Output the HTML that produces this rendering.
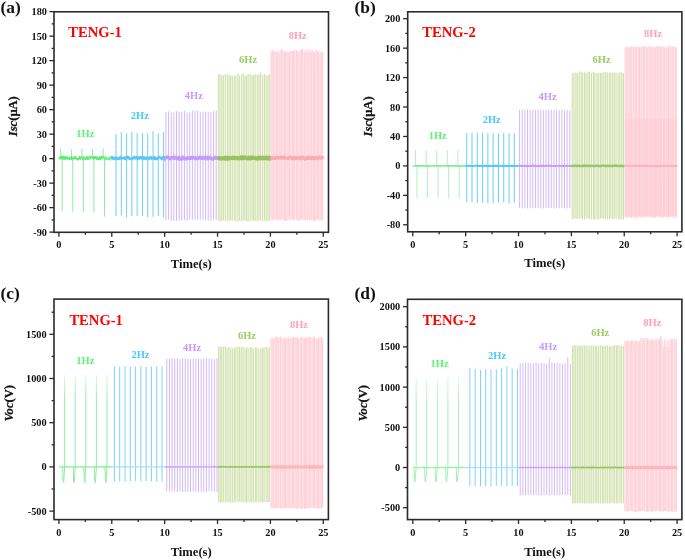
<!DOCTYPE html>
<html><head><meta charset="utf-8"><style>
html,body{margin:0;padding:0;background:#fff;}
body{width:685px;height:560px;overflow:hidden;}
svg{display:block;will-change:transform;filter:blur(0.3px);}

</style></head><body>
<svg width="685" height="560" viewBox="0 0 685 560" font-family='"Liberation Serif", serif'>
<rect width="685" height="560" fill="#ffffff"/>
<defs><linearGradient id="gc1" gradientUnits="userSpaceOnUse" x1="0" y1="374" x2="0" y2="400"><stop offset="0" stop-color="#e2fae6"/><stop offset="1" stop-color="#8eeea0"/></linearGradient><linearGradient id="gd1" gradientUnits="userSpaceOnUse" x1="0" y1="376" x2="0" y2="402"><stop offset="0" stop-color="#e6fbea"/><stop offset="1" stop-color="#a6f0b2"/></linearGradient></defs>
<rect x="270.84" y="50.83" width="52.46" height="169.87" fill="#fff4f5" fill-opacity="1"/>
<line x1="271.09" y1="51.02" x2="271.09" y2="219.73" stroke="#ffc3cc" stroke-width="0.75" stroke-opacity="1.0"/>
<line x1="272.25" y1="49.10" x2="272.25" y2="219.96" stroke="#ffc3cc" stroke-width="0.75" stroke-opacity="1.0"/>
<line x1="273.64" y1="50.80" x2="273.64" y2="219.67" stroke="#ffc3cc" stroke-width="0.75" stroke-opacity="1.0"/>
<line x1="275.10" y1="52.12" x2="275.10" y2="219.85" stroke="#ffc3cc" stroke-width="0.75" stroke-opacity="1.0"/>
<line x1="276.59" y1="50.30" x2="276.59" y2="219.16" stroke="#ffc3cc" stroke-width="0.75" stroke-opacity="1.0"/>
<line x1="277.74" y1="52.49" x2="277.74" y2="220.36" stroke="#ffc3cc" stroke-width="0.75" stroke-opacity="1.0"/>
<line x1="279.09" y1="52.50" x2="279.09" y2="219.12" stroke="#ffc3cc" stroke-width="0.75" stroke-opacity="1.0"/>
<line x1="280.25" y1="50.04" x2="280.25" y2="221.00" stroke="#ffc3cc" stroke-width="0.75" stroke-opacity="1.0"/>
<line x1="281.72" y1="48.86" x2="281.72" y2="218.74" stroke="#ffc3cc" stroke-width="0.75" stroke-opacity="1.0"/>
<line x1="282.96" y1="50.20" x2="282.96" y2="219.60" stroke="#ffc3cc" stroke-width="0.75" stroke-opacity="1.0"/>
<line x1="284.53" y1="52.23" x2="284.53" y2="221.07" stroke="#ffc3cc" stroke-width="0.75" stroke-opacity="1.0"/>
<line x1="285.64" y1="50.71" x2="285.64" y2="220.96" stroke="#ffc3cc" stroke-width="0.75" stroke-opacity="1.0"/>
<line x1="287.08" y1="52.09" x2="287.08" y2="220.51" stroke="#ffc3cc" stroke-width="0.75" stroke-opacity="1.0"/>
<line x1="288.15" y1="52.75" x2="288.15" y2="219.97" stroke="#ffc3cc" stroke-width="0.75" stroke-opacity="1.0"/>
<line x1="289.52" y1="51.07" x2="289.52" y2="219.04" stroke="#ffc3cc" stroke-width="0.75" stroke-opacity="1.0"/>
<line x1="290.96" y1="50.75" x2="290.96" y2="219.54" stroke="#ffc3cc" stroke-width="0.75" stroke-opacity="1.0"/>
<line x1="292.35" y1="50.83" x2="292.35" y2="219.48" stroke="#ffc3cc" stroke-width="0.75" stroke-opacity="1.0"/>
<line x1="293.62" y1="51.00" x2="293.62" y2="220.42" stroke="#ffc3cc" stroke-width="0.75" stroke-opacity="1.0"/>
<line x1="294.72" y1="48.80" x2="294.72" y2="218.67" stroke="#ffc3cc" stroke-width="0.75" stroke-opacity="1.0"/>
<line x1="296.45" y1="49.44" x2="296.45" y2="219.37" stroke="#ffc3cc" stroke-width="0.75" stroke-opacity="1.0"/>
<line x1="297.76" y1="51.58" x2="297.76" y2="220.54" stroke="#ffc3cc" stroke-width="0.75" stroke-opacity="1.0"/>
<line x1="298.94" y1="51.69" x2="298.94" y2="220.93" stroke="#ffc3cc" stroke-width="0.75" stroke-opacity="1.0"/>
<line x1="300.34" y1="49.74" x2="300.34" y2="220.12" stroke="#ffc3cc" stroke-width="0.75" stroke-opacity="1.0"/>
<line x1="301.58" y1="49.41" x2="301.58" y2="220.16" stroke="#ffc3cc" stroke-width="0.75" stroke-opacity="1.0"/>
<line x1="302.72" y1="48.96" x2="302.72" y2="219.03" stroke="#ffc3cc" stroke-width="0.75" stroke-opacity="1.0"/>
<line x1="304.32" y1="52.87" x2="304.32" y2="220.59" stroke="#ffc3cc" stroke-width="0.75" stroke-opacity="1.0"/>
<line x1="305.33" y1="49.15" x2="305.33" y2="219.95" stroke="#ffc3cc" stroke-width="0.75" stroke-opacity="1.0"/>
<line x1="307.07" y1="48.87" x2="307.07" y2="220.13" stroke="#ffc3cc" stroke-width="0.75" stroke-opacity="1.0"/>
<line x1="308.04" y1="52.57" x2="308.04" y2="219.56" stroke="#ffc3cc" stroke-width="0.75" stroke-opacity="1.0"/>
<line x1="309.68" y1="49.69" x2="309.68" y2="220.44" stroke="#ffc3cc" stroke-width="0.75" stroke-opacity="1.0"/>
<line x1="311.05" y1="52.52" x2="311.05" y2="220.29" stroke="#ffc3cc" stroke-width="0.75" stroke-opacity="1.0"/>
<line x1="311.96" y1="48.94" x2="311.96" y2="219.25" stroke="#ffc3cc" stroke-width="0.75" stroke-opacity="1.0"/>
<line x1="313.57" y1="52.39" x2="313.57" y2="220.50" stroke="#ffc3cc" stroke-width="0.75" stroke-opacity="1.0"/>
<line x1="314.58" y1="52.46" x2="314.58" y2="220.96" stroke="#ffc3cc" stroke-width="0.75" stroke-opacity="1.0"/>
<line x1="316.06" y1="49.62" x2="316.06" y2="220.67" stroke="#ffc3cc" stroke-width="0.75" stroke-opacity="1.0"/>
<line x1="317.31" y1="50.59" x2="317.31" y2="220.01" stroke="#ffc3cc" stroke-width="0.75" stroke-opacity="1.0"/>
<line x1="318.60" y1="52.09" x2="318.60" y2="219.31" stroke="#ffc3cc" stroke-width="0.75" stroke-opacity="1.0"/>
<line x1="320.08" y1="52.34" x2="320.08" y2="219.53" stroke="#ffc3cc" stroke-width="0.75" stroke-opacity="1.0"/>
<line x1="321.57" y1="52.40" x2="321.57" y2="220.07" stroke="#ffc3cc" stroke-width="0.75" stroke-opacity="1.0"/>
<line x1="322.70" y1="52.00" x2="322.70" y2="220.44" stroke="#ffc3cc" stroke-width="0.75" stroke-opacity="1.0"/>
<rect x="217.96" y="74.51" width="52.46" height="147.00" fill="#f6f9ee" fill-opacity="1"/>
<line x1="218.29" y1="74.60" x2="218.29" y2="220.44" stroke="#c6db9c" stroke-width="0.8" stroke-opacity="1.0"/>
<line x1="219.94" y1="73.97" x2="219.94" y2="221.28" stroke="#c6db9c" stroke-width="0.8" stroke-opacity="1.0"/>
<line x1="221.74" y1="76.11" x2="221.74" y2="220.90" stroke="#c6db9c" stroke-width="0.8" stroke-opacity="1.0"/>
<line x1="223.39" y1="75.25" x2="223.39" y2="220.19" stroke="#c6db9c" stroke-width="0.8" stroke-opacity="1.0"/>
<line x1="225.29" y1="73.89" x2="225.29" y2="220.53" stroke="#c6db9c" stroke-width="0.8" stroke-opacity="1.0"/>
<line x1="227.41" y1="74.32" x2="227.41" y2="220.43" stroke="#c6db9c" stroke-width="0.8" stroke-opacity="1.0"/>
<line x1="228.98" y1="75.67" x2="228.98" y2="220.79" stroke="#c6db9c" stroke-width="0.8" stroke-opacity="1.0"/>
<line x1="230.54" y1="75.62" x2="230.54" y2="220.03" stroke="#c6db9c" stroke-width="0.8" stroke-opacity="1.0"/>
<line x1="232.28" y1="75.95" x2="232.28" y2="220.18" stroke="#c6db9c" stroke-width="0.8" stroke-opacity="1.0"/>
<line x1="234.20" y1="75.90" x2="234.20" y2="220.39" stroke="#c6db9c" stroke-width="0.8" stroke-opacity="1.0"/>
<line x1="235.95" y1="75.05" x2="235.95" y2="220.85" stroke="#c6db9c" stroke-width="0.8" stroke-opacity="1.0"/>
<line x1="238.03" y1="73.39" x2="238.03" y2="221.48" stroke="#c6db9c" stroke-width="0.8" stroke-opacity="1.0"/>
<line x1="239.52" y1="75.95" x2="239.52" y2="220.02" stroke="#c6db9c" stroke-width="0.8" stroke-opacity="1.0"/>
<line x1="241.54" y1="74.48" x2="241.54" y2="221.36" stroke="#c6db9c" stroke-width="0.8" stroke-opacity="1.0"/>
<line x1="243.34" y1="72.92" x2="243.34" y2="219.97" stroke="#c6db9c" stroke-width="0.8" stroke-opacity="1.0"/>
<line x1="244.82" y1="75.78" x2="244.82" y2="220.82" stroke="#c6db9c" stroke-width="0.8" stroke-opacity="1.0"/>
<line x1="246.51" y1="75.71" x2="246.51" y2="221.00" stroke="#c6db9c" stroke-width="0.8" stroke-opacity="1.0"/>
<line x1="248.15" y1="74.12" x2="248.15" y2="221.25" stroke="#c6db9c" stroke-width="0.8" stroke-opacity="1.0"/>
<line x1="250.18" y1="73.87" x2="250.18" y2="221.43" stroke="#c6db9c" stroke-width="0.8" stroke-opacity="1.0"/>
<line x1="252.11" y1="75.59" x2="252.11" y2="220.18" stroke="#c6db9c" stroke-width="0.8" stroke-opacity="1.0"/>
<line x1="253.68" y1="74.84" x2="253.68" y2="220.83" stroke="#c6db9c" stroke-width="0.8" stroke-opacity="1.0"/>
<line x1="255.18" y1="74.20" x2="255.18" y2="220.73" stroke="#c6db9c" stroke-width="0.8" stroke-opacity="1.0"/>
<line x1="257.25" y1="74.89" x2="257.25" y2="221.46" stroke="#c6db9c" stroke-width="0.8" stroke-opacity="1.0"/>
<line x1="258.95" y1="73.77" x2="258.95" y2="219.93" stroke="#c6db9c" stroke-width="0.8" stroke-opacity="1.0"/>
<line x1="260.53" y1="72.96" x2="260.53" y2="220.43" stroke="#c6db9c" stroke-width="0.8" stroke-opacity="1.0"/>
<line x1="262.59" y1="74.98" x2="262.59" y2="220.92" stroke="#c6db9c" stroke-width="0.8" stroke-opacity="1.0"/>
<line x1="264.51" y1="73.89" x2="264.51" y2="220.41" stroke="#c6db9c" stroke-width="0.8" stroke-opacity="1.0"/>
<line x1="266.18" y1="75.77" x2="266.18" y2="221.13" stroke="#c6db9c" stroke-width="0.8" stroke-opacity="1.0"/>
<line x1="268.01" y1="74.96" x2="268.01" y2="220.68" stroke="#c6db9c" stroke-width="0.8" stroke-opacity="1.0"/>
<line x1="269.74" y1="73.50" x2="269.74" y2="220.70" stroke="#c6db9c" stroke-width="0.8" stroke-opacity="1.0"/>
<line x1="165.93" y1="112.26" x2="165.93" y2="219.99" stroke="#d3b9f8" stroke-width="1.0" stroke-opacity="1.0"/>
<line x1="168.57" y1="111.22" x2="168.57" y2="219.72" stroke="#d3b9f8" stroke-width="1.0" stroke-opacity="1.0"/>
<line x1="171.22" y1="112.44" x2="171.22" y2="220.73" stroke="#d3b9f8" stroke-width="1.0" stroke-opacity="1.0"/>
<line x1="173.86" y1="112.54" x2="173.86" y2="220.74" stroke="#d3b9f8" stroke-width="1.0" stroke-opacity="1.0"/>
<line x1="176.51" y1="111.10" x2="176.51" y2="220.89" stroke="#d3b9f8" stroke-width="1.0" stroke-opacity="1.0"/>
<line x1="179.15" y1="111.59" x2="179.15" y2="220.76" stroke="#d3b9f8" stroke-width="1.0" stroke-opacity="1.0"/>
<line x1="181.79" y1="112.17" x2="181.79" y2="220.40" stroke="#d3b9f8" stroke-width="1.0" stroke-opacity="1.0"/>
<line x1="184.44" y1="110.84" x2="184.44" y2="220.11" stroke="#d3b9f8" stroke-width="1.0" stroke-opacity="1.0"/>
<line x1="187.08" y1="112.86" x2="187.08" y2="220.65" stroke="#d3b9f8" stroke-width="1.0" stroke-opacity="1.0"/>
<line x1="189.73" y1="112.54" x2="189.73" y2="219.68" stroke="#d3b9f8" stroke-width="1.0" stroke-opacity="1.0"/>
<line x1="192.37" y1="110.91" x2="192.37" y2="219.79" stroke="#d3b9f8" stroke-width="1.0" stroke-opacity="1.0"/>
<line x1="195.01" y1="110.87" x2="195.01" y2="219.89" stroke="#d3b9f8" stroke-width="1.0" stroke-opacity="1.0"/>
<line x1="197.66" y1="110.57" x2="197.66" y2="219.81" stroke="#d3b9f8" stroke-width="1.0" stroke-opacity="1.0"/>
<line x1="200.30" y1="112.27" x2="200.30" y2="219.72" stroke="#d3b9f8" stroke-width="1.0" stroke-opacity="1.0"/>
<line x1="202.95" y1="111.70" x2="202.95" y2="219.87" stroke="#d3b9f8" stroke-width="1.0" stroke-opacity="1.0"/>
<line x1="205.59" y1="111.51" x2="205.59" y2="220.40" stroke="#d3b9f8" stroke-width="1.0" stroke-opacity="1.0"/>
<line x1="208.23" y1="112.00" x2="208.23" y2="220.40" stroke="#d3b9f8" stroke-width="1.0" stroke-opacity="1.0"/>
<line x1="210.88" y1="112.13" x2="210.88" y2="220.91" stroke="#d3b9f8" stroke-width="1.0" stroke-opacity="1.0"/>
<line x1="213.52" y1="110.89" x2="213.52" y2="219.80" stroke="#d3b9f8" stroke-width="1.0" stroke-opacity="1.0"/>
<line x1="216.17" y1="110.48" x2="216.17" y2="219.98" stroke="#d3b9f8" stroke-width="1.0" stroke-opacity="1.0"/>
<line x1="116.01" y1="133.78" x2="116.01" y2="216.12" stroke="#6fcff5" stroke-width="1.0" stroke-opacity="1.0"/>
<line x1="121.30" y1="132.00" x2="121.30" y2="215.53" stroke="#6fcff5" stroke-width="1.0" stroke-opacity="1.0"/>
<line x1="126.59" y1="133.24" x2="126.59" y2="217.21" stroke="#6fcff5" stroke-width="1.0" stroke-opacity="1.0"/>
<line x1="131.87" y1="131.73" x2="131.87" y2="216.23" stroke="#6fcff5" stroke-width="1.0" stroke-opacity="1.0"/>
<line x1="137.16" y1="133.14" x2="137.16" y2="216.16" stroke="#6fcff5" stroke-width="1.0" stroke-opacity="1.0"/>
<line x1="142.45" y1="132.83" x2="142.45" y2="215.93" stroke="#6fcff5" stroke-width="1.0" stroke-opacity="1.0"/>
<line x1="147.74" y1="133.74" x2="147.74" y2="217.29" stroke="#6fcff5" stroke-width="1.0" stroke-opacity="1.0"/>
<line x1="153.03" y1="131.19" x2="153.03" y2="216.96" stroke="#6fcff5" stroke-width="1.0" stroke-opacity="1.0"/>
<line x1="158.31" y1="133.28" x2="158.31" y2="215.87" stroke="#6fcff5" stroke-width="1.0" stroke-opacity="1.0"/>
<line x1="163.60" y1="132.07" x2="163.60" y2="217.47" stroke="#6fcff5" stroke-width="1.0" stroke-opacity="1.0"/>
<line x1="60.80" y1="148.45" x2="60.80" y2="158.63" stroke="#8eeea0" stroke-width="1.0" stroke-opacity="1.0"/>
<line x1="62.20" y1="158.63" x2="62.20" y2="211.71" stroke="#8eeea0" stroke-width="1.0" stroke-opacity="1.0"/>
<line x1="71.38" y1="149.23" x2="71.38" y2="158.63" stroke="#8eeea0" stroke-width="1.0" stroke-opacity="1.0"/>
<line x1="72.78" y1="158.63" x2="72.78" y2="211.71" stroke="#8eeea0" stroke-width="1.0" stroke-opacity="1.0"/>
<line x1="81.96" y1="148.64" x2="81.96" y2="158.63" stroke="#8eeea0" stroke-width="1.0" stroke-opacity="1.0"/>
<line x1="83.36" y1="158.63" x2="83.36" y2="211.71" stroke="#8eeea0" stroke-width="1.0" stroke-opacity="1.0"/>
<line x1="92.53" y1="149.11" x2="92.53" y2="158.63" stroke="#8eeea0" stroke-width="1.0" stroke-opacity="1.0"/>
<line x1="93.93" y1="158.63" x2="93.93" y2="212.53" stroke="#8eeea0" stroke-width="1.0" stroke-opacity="1.0"/>
<line x1="103.11" y1="148.43" x2="103.11" y2="158.63" stroke="#8eeea0" stroke-width="1.0" stroke-opacity="1.0"/>
<line x1="104.51" y1="158.63" x2="104.51" y2="216.61" stroke="#8eeea0" stroke-width="1.0" stroke-opacity="1.0"/>
<polyline points="58.90,156.64 59.11,158.54 59.32,158.69 59.53,158.08 59.75,156.86 59.96,159.01 60.17,159.51 60.38,158.38 60.59,158.12 60.80,156.95 61.02,155.75 61.23,157.04 61.44,158.19 61.65,156.27 61.86,158.90 62.07,157.09 62.28,156.73 62.50,155.87 62.71,159.67 62.92,159.35 63.13,159.85 63.34,158.88 63.55,156.26 63.76,156.96 63.98,157.81 64.19,156.39 64.40,159.58 64.61,157.79 64.82,156.55 65.03,159.05 65.25,156.67 65.46,159.54 65.67,158.14 65.88,158.27 66.09,157.42 66.30,157.85 66.51,156.69 66.73,155.84 66.94,159.11 67.15,157.14 67.36,159.02 67.57,157.02 67.78,159.78 68.00,160.02 68.21,159.49 68.42,159.41 68.63,158.64 68.84,159.11 69.05,156.68 69.26,157.66 69.48,159.32 69.69,157.04 69.90,159.59 70.11,159.95 70.32,158.04 70.53,157.47 70.75,157.72 70.96,157.49 71.17,159.98 71.38,157.95 71.59,156.05 71.80,155.94 72.01,158.52 72.23,160.18 72.44,158.44 72.65,158.08 72.86,158.25 73.07,159.11 73.28,157.09 73.49,158.29 73.71,158.32 73.92,158.60 74.13,156.82 74.34,156.41 74.55,157.08 74.76,159.62 74.98,157.71 75.19,158.37 75.40,157.29 75.61,156.23 75.82,155.86 76.03,158.90 76.24,159.36 76.46,157.77 76.67,158.74 76.88,158.90 77.09,159.86 77.30,160.30 77.51,158.10 77.73,160.08 77.94,160.36 78.15,158.87 78.36,159.79 78.57,158.34 78.78,157.58 78.99,156.89 79.21,159.37 79.42,156.89 79.63,156.01 79.84,158.90 80.05,159.34 80.26,158.22 80.48,159.47 80.69,156.46 80.90,156.71 81.11,156.89 81.32,157.47 81.53,156.55 81.74,155.94 81.96,156.94 82.17,159.47 82.38,160.33 82.59,159.51 82.80,158.24 83.01,157.04 83.22,159.74 83.44,158.48 83.65,159.07 83.86,156.28 84.07,156.48 84.28,159.13 84.49,159.48 84.71,159.91 84.92,158.83 85.13,157.88 85.34,158.34 85.55,159.54 85.76,157.53 85.97,158.07 86.19,157.11 86.40,158.96 86.61,156.18 86.82,158.43 87.03,160.00 87.24,156.44 87.46,158.10 87.67,158.64 87.88,159.62 88.09,158.70 88.30,157.15 88.51,157.46 88.72,159.82 88.94,160.08 89.15,156.91 89.36,156.12 89.57,155.96 89.78,155.64 89.99,157.33 90.20,156.40 90.42,159.23 90.63,158.92 90.84,156.65 91.05,157.92 91.26,157.28 91.47,157.85 91.69,156.83 91.90,156.40 92.11,156.39 92.32,157.19 92.53,158.74 92.74,158.38 92.95,156.21 93.17,158.54 93.38,159.69 93.59,159.50 93.80,159.53 94.01,156.28 94.22,157.53 94.44,156.11 94.65,158.74 94.86,156.82 95.07,158.67 95.28,157.13 95.49,158.67 95.70,157.38 95.92,155.99 96.13,157.16 96.34,157.06 96.55,159.50 96.76,157.47 96.97,157.93 97.19,158.22 97.40,159.93 97.61,156.74 97.82,158.19 98.03,158.10 98.24,159.02 98.45,160.17 98.67,157.67 98.88,158.79 99.09,158.29 99.30,158.33 99.51,156.28 99.72,158.99 99.93,160.21 100.15,157.86 100.36,157.24 100.57,159.92 100.78,156.78 100.99,156.02 101.20,155.85 101.42,158.90 101.63,159.29 101.84,158.07 102.05,158.54 102.26,156.13 102.47,158.25 102.68,157.84 102.90,158.06 103.11,157.58 103.32,157.53 103.53,156.79 103.74,155.90 103.95,157.33 104.17,156.84 104.38,158.64 104.59,159.47 104.80,159.25 105.01,158.09 105.22,156.95 105.43,157.34 105.65,157.84 105.86,158.54 106.07,160.06 106.28,156.71 106.49,157.68 106.70,157.93 106.92,158.91 107.13,159.83 107.34,159.55 107.55,158.86 107.76,159.27 107.97,158.98 108.18,159.71 108.40,159.19 108.61,159.02 108.82,157.17 109.03,159.59 109.24,157.87 109.45,158.47 109.66,159.47 109.88,160.25 110.09,160.51 110.30,156.47 110.51,156.94 110.72,157.03 110.93,157.38 111.15,156.42 111.36,157.93 111.57,156.26 111.78,156.85 111.99,159.64 112.20,159.36" fill="none" stroke="#58ea70" stroke-width="0.9" stroke-opacity="1.0" stroke-linejoin="round"/>
<polyline points="111.78,159.31 111.99,157.41 112.20,156.51 112.41,158.97 112.63,157.43 112.84,156.79 113.05,158.08 113.26,157.61 113.47,159.00 113.68,157.57 113.90,159.18 114.11,157.87 114.32,158.26 114.53,159.31 114.74,158.93 114.95,159.49 115.16,159.05 115.38,157.07 115.59,158.81 115.80,158.51 116.01,157.65 116.22,157.05 116.43,158.71 116.64,158.47 116.86,159.39 117.07,159.20 117.28,159.67 117.49,158.71 117.70,158.79 117.91,158.57 118.13,157.52 118.34,159.15 118.55,157.84 118.76,158.76 118.97,159.52 119.18,158.90 119.39,157.29 119.61,158.72 119.82,158.71 120.03,157.35 120.24,156.56 120.45,157.68 120.66,156.62 120.88,158.80 121.09,158.28 121.30,158.15 121.51,157.81 121.72,158.42 121.93,159.31 122.14,157.88 122.36,157.63 122.57,158.14 122.78,157.50 122.99,158.14 123.20,158.18 123.41,157.89 123.63,158.47 123.84,158.24 124.05,156.94 124.26,159.09 124.47,157.94 124.68,157.81 124.89,157.69 125.11,159.13 125.32,159.63 125.53,158.54 125.74,157.91 125.95,156.86 126.16,158.79 126.37,157.34 126.59,157.95 126.80,157.58 127.01,157.42 127.22,157.45 127.43,156.99 127.64,156.42 127.86,157.65 128.07,158.74 128.28,158.66 128.49,157.38 128.70,158.38 128.91,156.88 129.12,157.44 129.34,158.77 129.55,159.43 129.76,158.34 129.97,159.09 130.18,158.34 130.39,158.19 130.61,158.32 130.82,159.49 131.03,159.15 131.24,158.29 131.45,158.74 131.66,158.65 131.87,157.81 132.09,158.76 132.30,159.14 132.51,158.67 132.72,159.46 132.93,157.11 133.14,157.75 133.36,158.32 133.57,157.67 133.78,157.00 133.99,158.26 134.20,157.92 134.41,157.35 134.62,156.54 134.84,158.89 135.05,157.87 135.26,156.91 135.47,156.90 135.68,157.01 135.89,158.75 136.10,157.35 136.32,157.20 136.53,156.65 136.74,157.53 136.95,157.06 137.16,157.30 137.37,158.47 137.59,159.35 137.80,159.36 138.01,157.14 138.22,157.42 138.43,158.82 138.64,156.96 138.85,156.88 139.07,157.66 139.28,157.59 139.49,158.60 139.70,158.81 139.91,158.16 140.12,157.37 140.34,157.08 140.55,157.09 140.76,156.53 140.97,158.04 141.18,157.08 141.39,158.83 141.60,158.68 141.82,156.98 142.03,157.71 142.24,158.23 142.45,156.81 142.66,157.63 142.87,156.59 143.08,158.34 143.30,156.74 143.51,158.01 143.72,159.38 143.93,159.41 144.14,157.70 144.35,158.03 144.57,157.02 144.78,157.29 144.99,158.83 145.20,159.16 145.41,156.99 145.62,157.38 145.83,158.23 146.05,157.18 146.26,158.62 146.47,159.31 146.68,158.56 146.89,157.80 147.10,158.94 147.32,158.34 147.53,157.25 147.74,157.17 147.95,156.82 148.16,158.62 148.37,158.23 148.58,158.64 148.80,159.10 149.01,159.68 149.22,157.66 149.43,157.65 149.64,158.97 149.85,159.04 150.07,158.02 150.28,158.46 150.49,157.31 150.70,156.87 150.91,156.42 151.12,157.21 151.33,157.04 151.55,157.78 151.76,159.27 151.97,157.43 152.18,158.01 152.39,159.05 152.60,158.61 152.81,158.28 153.03,158.85 153.24,156.94 153.45,158.96 153.66,158.83 153.87,159.13 154.08,159.27 154.30,157.28 154.51,156.59 154.72,156.70 154.93,157.64 155.14,159.14 155.35,159.51 155.56,158.23 155.78,158.43 155.99,158.82 156.20,157.80 156.41,159.28 156.62,159.64 156.83,159.15 157.05,159.49 157.26,159.31 157.47,158.84 157.68,157.77 157.89,157.34 158.10,157.09 158.31,156.51 158.53,158.77 158.74,157.69 158.95,156.59 159.16,157.08 159.37,156.64 159.58,157.46 159.80,157.39 160.01,156.93 160.22,157.63 160.43,157.67 160.64,157.51 160.85,158.75 161.06,157.71 161.28,158.05 161.49,159.09 161.70,159.63 161.91,158.16 162.12,156.78 162.33,158.92 162.54,158.34 162.76,157.33 162.97,156.78 163.18,156.92 163.39,157.17 163.60,156.76 163.81,156.39 164.03,158.92 164.24,159.19 164.45,157.30 164.66,157.76" fill="none" stroke="#5cc6f2" stroke-width="1.6" stroke-opacity="1.0" stroke-linejoin="round"/>
<polyline points="164.66,159.22 164.87,159.64 165.08,159.61 165.29,157.34 165.51,158.08 165.72,157.83 165.93,158.05 166.14,157.00 166.35,156.86 166.56,157.52 166.78,157.10 166.99,157.62 167.20,156.58 167.41,156.43 167.62,158.14 167.83,157.84 168.04,158.01 168.26,158.68 168.47,157.83 168.68,156.73 168.89,158.43 169.10,158.40 169.31,158.58 169.52,158.53 169.74,159.50 169.95,158.09 170.16,158.77 170.37,157.89 170.58,158.19 170.79,158.53 171.01,157.66 171.22,156.76 171.43,157.58 171.64,158.50 171.85,158.43 172.06,158.00 172.27,158.42 172.49,157.26 172.70,156.90 172.91,157.20 173.12,158.66 173.33,157.37 173.54,156.75 173.76,156.52 173.97,156.29 174.18,156.88 174.39,157.89 174.60,158.89 174.81,157.81 175.02,157.60 175.24,157.31 175.45,157.27 175.66,158.58 175.87,158.33 176.08,157.44 176.29,156.75 176.51,158.44 176.72,158.73 176.93,159.16 177.14,157.64 177.35,158.04 177.56,159.21 177.77,158.64 177.99,159.46 178.20,157.53 178.41,159.21 178.62,157.14 178.83,157.53 179.04,156.54 179.25,158.45 179.47,158.68 179.68,159.55 179.89,159.34 180.10,159.68 180.31,158.63 180.52,159.58 180.74,159.19 180.95,157.95 181.16,159.33 181.37,158.08 181.58,157.19 181.79,156.59 182.00,157.50 182.22,157.02 182.43,158.94 182.64,159.56 182.85,157.70 183.06,156.82 183.27,157.75 183.49,157.02 183.70,157.85 183.91,158.85 184.12,157.59 184.33,157.68 184.54,159.05 184.75,158.18 184.97,157.63 185.18,159.01 185.39,159.20 185.60,159.49 185.81,158.99 186.02,158.07 186.24,158.58 186.45,159.12 186.66,158.75 186.87,157.51 187.08,157.30 187.29,157.56 187.50,158.65 187.72,158.38 187.93,158.27 188.14,159.02 188.35,157.23 188.56,158.16 188.77,157.60 188.98,158.07 189.20,158.98 189.41,157.61 189.62,159.17 189.83,157.19 190.04,157.95 190.25,158.12 190.47,157.32 190.68,157.99 190.89,157.93 191.10,157.86 191.31,158.59 191.52,156.81 191.73,157.32 191.95,158.62 192.16,157.20 192.37,158.81 192.58,157.43 192.79,158.36 193.00,157.21 193.22,157.64 193.43,157.70 193.64,156.76 193.85,158.21 194.06,158.03 194.27,158.56 194.48,158.30 194.70,158.27 194.91,158.17 195.12,157.51 195.33,158.99 195.54,157.16 195.75,158.82 195.96,159.29 196.18,158.40 196.39,158.92 196.60,158.78 196.81,158.55 197.02,157.60 197.23,157.40 197.45,157.42 197.66,157.29 197.87,159.10 198.08,157.91 198.29,157.68 198.50,157.70 198.71,158.82 198.93,158.20 199.14,158.23 199.35,157.41 199.56,157.22 199.77,156.64 199.98,156.82 200.20,157.01 200.41,158.71 200.62,158.24 200.83,157.00 201.04,157.62 201.25,156.84 201.46,157.86 201.68,157.82 201.89,158.97 202.10,157.64 202.31,158.89 202.52,157.58 202.73,159.25 202.95,158.77 203.16,156.97 203.37,158.57 203.58,157.56 203.79,157.50 204.00,156.88 204.21,158.63 204.43,157.06 204.64,158.41 204.85,157.85 205.06,158.48 205.27,157.59 205.48,156.72 205.69,158.80 205.91,158.69 206.12,157.30 206.33,159.15 206.54,159.52 206.75,157.59 206.96,156.55 207.18,157.90 207.39,156.98 207.60,158.36 207.81,158.04 208.02,158.62 208.23,158.40 208.44,158.90 208.66,159.19 208.87,158.67 209.08,158.48 209.29,157.68 209.50,156.90 209.71,156.55 209.93,158.59 210.14,157.37 210.35,157.63 210.56,157.40 210.77,158.17 210.98,158.17 211.19,159.08 211.41,158.16 211.62,157.68 211.83,158.35 212.04,158.81 212.25,159.46 212.46,157.93 212.68,159.08 212.89,159.69 213.10,159.88 213.31,157.55 213.52,157.55 213.73,158.65 213.94,159.14 214.16,157.07 214.37,157.45 214.58,158.48 214.79,158.89 215.00,158.39 215.21,157.33 215.42,157.56 215.64,156.65 215.85,157.10 216.06,157.55 216.27,158.79 216.48,158.51 216.69,157.93 216.91,157.29 217.12,157.29 217.33,158.29 217.54,157.95" fill="none" stroke="#c39cf6" stroke-width="2.2" stroke-opacity="1.0" stroke-linejoin="round"/>
<polyline points="217.96,158.62 218.17,159.16 218.39,157.48 218.60,159.26 218.81,157.54 219.02,158.36 219.23,156.99 219.44,158.44 219.66,157.18 219.87,158.35 220.08,158.76 220.29,158.99 220.50,158.15 220.71,159.09 220.92,159.71 221.14,157.46 221.35,157.91 221.56,159.28 221.77,159.07 221.98,158.19 222.19,157.53 222.40,159.15 222.62,157.20 222.83,158.51 223.04,159.14 223.25,157.40 223.46,157.36 223.67,157.28 223.89,157.92 224.10,157.63 224.31,159.01 224.52,159.51 224.73,157.96 224.94,159.11 225.15,157.15 225.37,156.64 225.58,158.07 225.79,158.88 226.00,159.18 226.21,159.75 226.42,159.55 226.64,157.83 226.85,158.65 227.06,159.41 227.27,157.30 227.48,157.80 227.69,156.99 227.90,156.72 228.12,157.58 228.33,158.37 228.54,159.46 228.75,157.43 228.96,157.86 229.17,159.37 229.39,159.17 229.60,158.46 229.81,157.44 230.02,158.22 230.23,157.42 230.44,158.25 230.65,158.51 230.87,157.87 231.08,158.81 231.29,157.99 231.50,157.93 231.71,158.93 231.92,157.60 232.13,157.02 232.35,157.94 232.56,157.82 232.77,159.01 232.98,157.62 233.19,157.55 233.40,156.65 233.62,157.48 233.83,157.34 234.04,157.68 234.25,158.66 234.46,156.93 234.67,159.07 234.88,158.93 235.10,159.17 235.31,158.48 235.52,158.38 235.73,157.88 235.94,157.69 236.15,157.15 236.37,157.21 236.58,157.21 236.79,157.32 237.00,158.96 237.21,159.14 237.42,158.76 237.63,156.90 237.85,157.02 238.06,157.85 238.27,158.51 238.48,157.95 238.69,158.38 238.90,159.27 239.12,157.75 239.33,157.62 239.54,158.63 239.75,157.70 239.96,158.55 240.17,157.90 240.38,156.64 240.60,157.51 240.81,156.66 241.02,158.42 241.23,159.11 241.44,158.44 241.65,159.27 241.86,157.60 242.08,157.75 242.29,157.04 242.50,156.47 242.71,158.47 242.92,156.91 243.13,158.91 243.35,158.45 243.56,158.72 243.77,156.98 243.98,158.85 244.19,159.10 244.40,157.24 244.61,156.91 244.83,156.69 245.04,157.64 245.25,156.73 245.46,158.48 245.67,158.15 245.88,158.64 246.10,157.53 246.31,158.31 246.52,157.98 246.73,158.43 246.94,157.90 247.15,159.36 247.36,159.40 247.58,159.37 247.79,157.99 248.00,157.15 248.21,156.80 248.42,156.63 248.63,158.92 248.84,157.69 249.06,158.96 249.27,157.56 249.48,158.22 249.69,157.39 249.90,157.30 250.11,158.50 250.33,158.48 250.54,159.41 250.75,157.71 250.96,157.29 251.17,156.58 251.38,156.80 251.59,159.01 251.81,158.50 252.02,158.10 252.23,157.61 252.44,158.63 252.65,158.74 252.86,157.28 253.08,156.53 253.29,156.67 253.50,158.51 253.71,158.83 253.92,157.50 254.13,157.13 254.34,157.22 254.56,158.29 254.77,158.80 254.98,157.53 255.19,157.40 255.40,157.11 255.61,159.00 255.83,158.47 256.04,159.39 256.25,157.72 256.46,158.31 256.67,158.31 256.88,159.32 257.09,158.04 257.31,157.27 257.52,158.69 257.73,159.50 257.94,158.49 258.15,157.70 258.36,156.77 258.57,157.50 258.79,159.06 259.00,157.94 259.21,157.86 259.42,158.16 259.63,157.33 259.84,156.73 260.06,157.69 260.27,159.24 260.48,159.43 260.69,157.90 260.90,158.79 261.11,159.19 261.32,158.61 261.54,157.81 261.75,157.11 261.96,158.32 262.17,158.64 262.38,157.41 262.59,156.84 262.81,156.59 263.02,158.52 263.23,159.26 263.44,158.44 263.65,158.47 263.86,158.74 264.07,157.28 264.29,157.86 264.50,157.83 264.71,159.01 264.92,157.38 265.13,158.81 265.34,157.26 265.56,158.11 265.77,159.15 265.98,157.18 266.19,157.73 266.40,156.55 266.61,157.61 266.82,157.86 267.04,159.27 267.25,158.36 267.46,159.28 267.67,159.05 267.88,159.29 268.09,157.99 268.30,156.89 268.52,158.07 268.73,156.96 268.94,158.06 269.15,157.14 269.36,158.06 269.57,158.78 269.79,159.55 270.00,157.65 270.21,157.01 270.42,157.50" fill="none" stroke="#98c262" stroke-width="2.4" stroke-opacity="1.0" stroke-linejoin="round"/>
<polyline points="270.84,157.69 271.05,159.12 271.27,159.32 271.48,157.62 271.69,158.95 271.90,158.69 272.11,156.95 272.32,158.97 272.54,157.63 272.75,157.37 272.96,157.62 273.17,158.15 273.38,157.02 273.59,158.25 273.80,159.03 274.02,158.36 274.23,158.95 274.44,158.66 274.65,159.13 274.86,157.47 275.07,157.47 275.28,157.77 275.50,156.84 275.71,159.00 275.92,158.70 276.13,157.11 276.34,157.98 276.55,157.78 276.77,157.08 276.98,156.80 277.19,157.55 277.40,156.68 277.61,157.80 277.82,158.00 278.03,156.98 278.25,158.76 278.46,156.96 278.67,156.79 278.88,158.55 279.09,157.40 279.30,157.63 279.52,158.08 279.73,157.86 279.94,157.96 280.15,158.02 280.36,157.98 280.57,156.78 280.78,158.54 281.00,157.57 281.21,156.63 281.42,157.35 281.63,158.71 281.84,158.59 282.05,158.08 282.27,157.98 282.48,157.23 282.69,158.12 282.90,157.64 283.11,156.69 283.32,156.59 283.53,156.46 283.75,158.08 283.96,159.11 284.17,159.07 284.38,157.56 284.59,156.90 284.80,158.95 285.01,157.95 285.23,157.08 285.44,157.94 285.65,158.34 285.86,158.24 286.07,157.96 286.28,157.46 286.50,157.84 286.71,157.86 286.92,158.49 287.13,158.02 287.34,157.62 287.55,159.27 287.76,157.31 287.98,158.53 288.19,157.95 288.40,158.86 288.61,158.86 288.82,158.46 289.03,158.47 289.25,157.40 289.46,156.49 289.67,158.26 289.88,157.42 290.09,156.76 290.30,158.52 290.51,158.43 290.73,156.84 290.94,157.73 291.15,157.00 291.36,158.74 291.57,157.60 291.78,159.13 292.00,158.68 292.21,157.04 292.42,157.48 292.63,159.17 292.84,158.93 293.05,157.34 293.26,157.45 293.48,157.22 293.69,156.65 293.90,157.88 294.11,158.53 294.32,157.39 294.53,157.98 294.74,159.03 294.96,159.43 295.17,157.53 295.38,156.69 295.59,158.78 295.80,157.77 296.01,157.02 296.23,158.56 296.44,157.53 296.65,158.49 296.86,158.70 297.07,157.65 297.28,157.81 297.49,157.37 297.71,158.69 297.92,157.62 298.13,157.27 298.34,158.80 298.55,157.64 298.76,157.73 298.98,157.99 299.19,156.62 299.40,157.01 299.61,158.41 299.82,159.49 300.03,158.03 300.24,157.96 300.46,156.77 300.67,157.62 300.88,157.51 301.09,157.88 301.30,157.42 301.51,157.33 301.72,158.98 301.94,159.09 302.15,157.96 302.36,156.80 302.57,156.41 302.78,156.41 302.99,156.51 303.21,157.81 303.42,158.02 303.63,156.99 303.84,158.78 304.05,158.73 304.26,158.83 304.47,159.38 304.69,157.91 304.90,159.12 305.11,159.69 305.32,159.67 305.53,157.25 305.74,158.78 305.96,159.61 306.17,157.40 306.38,158.87 306.59,159.16 306.80,157.06 307.01,158.32 307.22,158.84 307.44,158.97 307.65,157.07 307.86,159.06 308.07,157.15 308.28,156.60 308.49,158.85 308.71,158.22 308.92,157.19 309.13,157.48 309.34,158.21 309.55,157.44 309.76,159.01 309.97,158.82 310.19,157.95 310.40,157.63 310.61,156.83 310.82,159.03 311.03,157.79 311.24,159.18 311.45,158.49 311.67,158.27 311.88,157.19 312.09,157.79 312.30,156.83 312.51,157.53 312.72,158.20 312.94,159.27 313.15,157.62 313.36,157.02 313.57,158.53 313.78,157.15 313.99,156.91 314.20,157.63 314.42,157.71 314.63,159.31 314.84,157.20 315.05,158.82 315.26,158.16 315.47,157.06 315.69,157.01 315.90,158.87 316.11,157.38 316.32,157.62 316.53,156.62 316.74,157.57 316.95,158.45 317.17,158.82 317.38,157.82 317.59,157.76 317.80,158.86 318.01,159.34 318.22,158.27 318.44,156.86 318.65,158.91 318.86,157.86 319.07,157.91 319.28,156.73 319.49,156.30 319.70,156.43 319.92,157.67 320.13,157.25 320.34,158.62 320.55,157.22 320.76,158.22 320.97,156.75 321.18,157.25 321.40,159.03 321.61,157.65 321.82,157.40 322.03,156.53 322.24,158.62 322.45,158.19 322.67,157.38 322.88,158.00 323.09,157.37 323.30,158.92" fill="none" stroke="#faaab5" stroke-width="2.0" stroke-opacity="1.0" stroke-linejoin="round"/>
<rect x="624.66" y="46.67" width="52.44" height="170.75" fill="#fff4f5" fill-opacity="1"/>
<rect x="624.66" y="118.80" width="52.44" height="97.15" fill="#ffc8cf" fill-opacity="0.35"/>
<line x1="625.08" y1="47.74" x2="625.08" y2="218.28" stroke="#ffc3cc" stroke-width="0.75" stroke-opacity="1.0"/>
<line x1="626.33" y1="46.90" x2="626.33" y2="217.01" stroke="#ffc3cc" stroke-width="0.75" stroke-opacity="1.0"/>
<line x1="627.86" y1="47.47" x2="627.86" y2="218.28" stroke="#ffc3cc" stroke-width="0.75" stroke-opacity="1.0"/>
<line x1="629.12" y1="47.26" x2="629.12" y2="216.85" stroke="#ffc3cc" stroke-width="0.75" stroke-opacity="1.0"/>
<line x1="630.17" y1="47.45" x2="630.17" y2="216.89" stroke="#ffc3cc" stroke-width="0.75" stroke-opacity="1.0"/>
<line x1="631.36" y1="46.31" x2="631.36" y2="218.22" stroke="#ffc3cc" stroke-width="0.75" stroke-opacity="1.0"/>
<line x1="633.06" y1="46.59" x2="633.06" y2="217.54" stroke="#ffc3cc" stroke-width="0.75" stroke-opacity="1.0"/>
<line x1="634.17" y1="46.86" x2="634.17" y2="216.32" stroke="#ffc3cc" stroke-width="0.75" stroke-opacity="1.0"/>
<line x1="635.72" y1="47.57" x2="635.72" y2="218.48" stroke="#ffc3cc" stroke-width="0.75" stroke-opacity="1.0"/>
<line x1="636.76" y1="45.70" x2="636.76" y2="217.63" stroke="#ffc3cc" stroke-width="0.75" stroke-opacity="1.0"/>
<line x1="638.34" y1="47.33" x2="638.34" y2="217.79" stroke="#ffc3cc" stroke-width="0.75" stroke-opacity="1.0"/>
<line x1="639.49" y1="46.97" x2="639.49" y2="216.42" stroke="#ffc3cc" stroke-width="0.75" stroke-opacity="1.0"/>
<line x1="641.08" y1="47.31" x2="641.08" y2="218.05" stroke="#ffc3cc" stroke-width="0.75" stroke-opacity="1.0"/>
<line x1="641.94" y1="46.48" x2="641.94" y2="217.32" stroke="#ffc3cc" stroke-width="0.75" stroke-opacity="1.0"/>
<line x1="643.69" y1="45.67" x2="643.69" y2="216.67" stroke="#ffc3cc" stroke-width="0.75" stroke-opacity="1.0"/>
<line x1="644.65" y1="46.99" x2="644.65" y2="218.07" stroke="#ffc3cc" stroke-width="0.75" stroke-opacity="1.0"/>
<line x1="646.35" y1="45.93" x2="646.35" y2="216.34" stroke="#ffc3cc" stroke-width="0.75" stroke-opacity="1.0"/>
<line x1="647.29" y1="47.70" x2="647.29" y2="216.90" stroke="#ffc3cc" stroke-width="0.75" stroke-opacity="1.0"/>
<line x1="648.81" y1="45.85" x2="648.81" y2="217.09" stroke="#ffc3cc" stroke-width="0.75" stroke-opacity="1.0"/>
<line x1="650.19" y1="47.29" x2="650.19" y2="216.77" stroke="#ffc3cc" stroke-width="0.75" stroke-opacity="1.0"/>
<line x1="651.18" y1="46.16" x2="651.18" y2="218.10" stroke="#ffc3cc" stroke-width="0.75" stroke-opacity="1.0"/>
<line x1="652.84" y1="46.36" x2="652.84" y2="218.04" stroke="#ffc3cc" stroke-width="0.75" stroke-opacity="1.0"/>
<line x1="654.18" y1="47.68" x2="654.18" y2="217.78" stroke="#ffc3cc" stroke-width="0.75" stroke-opacity="1.0"/>
<line x1="655.60" y1="47.03" x2="655.60" y2="217.65" stroke="#ffc3cc" stroke-width="0.75" stroke-opacity="1.0"/>
<line x1="656.79" y1="46.34" x2="656.79" y2="216.68" stroke="#ffc3cc" stroke-width="0.75" stroke-opacity="1.0"/>
<line x1="658.07" y1="45.65" x2="658.07" y2="216.37" stroke="#ffc3cc" stroke-width="0.75" stroke-opacity="1.0"/>
<line x1="659.11" y1="45.58" x2="659.11" y2="216.78" stroke="#ffc3cc" stroke-width="0.75" stroke-opacity="1.0"/>
<line x1="660.49" y1="47.10" x2="660.49" y2="218.13" stroke="#ffc3cc" stroke-width="0.75" stroke-opacity="1.0"/>
<line x1="661.79" y1="46.39" x2="661.79" y2="217.32" stroke="#ffc3cc" stroke-width="0.75" stroke-opacity="1.0"/>
<line x1="663.34" y1="46.28" x2="663.34" y2="218.32" stroke="#ffc3cc" stroke-width="0.75" stroke-opacity="1.0"/>
<line x1="664.61" y1="47.35" x2="664.61" y2="216.49" stroke="#ffc3cc" stroke-width="0.75" stroke-opacity="1.0"/>
<line x1="666.05" y1="46.44" x2="666.05" y2="216.99" stroke="#ffc3cc" stroke-width="0.75" stroke-opacity="1.0"/>
<line x1="667.22" y1="47.56" x2="667.22" y2="217.64" stroke="#ffc3cc" stroke-width="0.75" stroke-opacity="1.0"/>
<line x1="668.51" y1="45.76" x2="668.51" y2="217.09" stroke="#ffc3cc" stroke-width="0.75" stroke-opacity="1.0"/>
<line x1="669.99" y1="45.58" x2="669.99" y2="218.09" stroke="#ffc3cc" stroke-width="0.75" stroke-opacity="1.0"/>
<line x1="671.08" y1="46.77" x2="671.08" y2="216.76" stroke="#ffc3cc" stroke-width="0.75" stroke-opacity="1.0"/>
<line x1="672.60" y1="46.79" x2="672.60" y2="216.78" stroke="#ffc3cc" stroke-width="0.75" stroke-opacity="1.0"/>
<line x1="673.86" y1="46.53" x2="673.86" y2="218.26" stroke="#ffc3cc" stroke-width="0.75" stroke-opacity="1.0"/>
<line x1="675.37" y1="47.55" x2="675.37" y2="216.35" stroke="#ffc3cc" stroke-width="0.75" stroke-opacity="1.0"/>
<line x1="676.29" y1="47.51" x2="676.29" y2="218.10" stroke="#ffc3cc" stroke-width="0.75" stroke-opacity="1.0"/>
<rect x="571.80" y="72.43" width="52.44" height="146.46" fill="#f6f9ee" fill-opacity="1"/>
<line x1="572.16" y1="73.36" x2="572.16" y2="219.31" stroke="#c6db9c" stroke-width="0.8" stroke-opacity="1.0"/>
<line x1="574.02" y1="72.86" x2="574.02" y2="218.30" stroke="#c6db9c" stroke-width="0.8" stroke-opacity="1.0"/>
<line x1="575.92" y1="72.44" x2="575.92" y2="218.57" stroke="#c6db9c" stroke-width="0.8" stroke-opacity="1.0"/>
<line x1="577.41" y1="73.31" x2="577.41" y2="218.88" stroke="#c6db9c" stroke-width="0.8" stroke-opacity="1.0"/>
<line x1="579.25" y1="71.67" x2="579.25" y2="218.86" stroke="#c6db9c" stroke-width="0.8" stroke-opacity="1.0"/>
<line x1="581.17" y1="71.45" x2="581.17" y2="218.33" stroke="#c6db9c" stroke-width="0.8" stroke-opacity="1.0"/>
<line x1="582.53" y1="72.71" x2="582.53" y2="219.63" stroke="#c6db9c" stroke-width="0.8" stroke-opacity="1.0"/>
<line x1="584.48" y1="71.86" x2="584.48" y2="219.44" stroke="#c6db9c" stroke-width="0.8" stroke-opacity="1.0"/>
<line x1="586.14" y1="73.51" x2="586.14" y2="218.55" stroke="#c6db9c" stroke-width="0.8" stroke-opacity="1.0"/>
<line x1="588.01" y1="71.67" x2="588.01" y2="218.40" stroke="#c6db9c" stroke-width="0.8" stroke-opacity="1.0"/>
<line x1="589.62" y1="71.43" x2="589.62" y2="219.33" stroke="#c6db9c" stroke-width="0.8" stroke-opacity="1.0"/>
<line x1="591.53" y1="73.35" x2="591.53" y2="219.45" stroke="#c6db9c" stroke-width="0.8" stroke-opacity="1.0"/>
<line x1="593.65" y1="71.37" x2="593.65" y2="219.46" stroke="#c6db9c" stroke-width="0.8" stroke-opacity="1.0"/>
<line x1="594.85" y1="73.18" x2="594.85" y2="219.60" stroke="#c6db9c" stroke-width="0.8" stroke-opacity="1.0"/>
<line x1="597.12" y1="73.42" x2="597.12" y2="219.57" stroke="#c6db9c" stroke-width="0.8" stroke-opacity="1.0"/>
<line x1="598.70" y1="72.75" x2="598.70" y2="219.39" stroke="#c6db9c" stroke-width="0.8" stroke-opacity="1.0"/>
<line x1="600.61" y1="72.85" x2="600.61" y2="218.26" stroke="#c6db9c" stroke-width="0.8" stroke-opacity="1.0"/>
<line x1="602.03" y1="73.16" x2="602.03" y2="218.43" stroke="#c6db9c" stroke-width="0.8" stroke-opacity="1.0"/>
<line x1="603.79" y1="71.90" x2="603.79" y2="218.79" stroke="#c6db9c" stroke-width="0.8" stroke-opacity="1.0"/>
<line x1="605.62" y1="72.26" x2="605.62" y2="218.49" stroke="#c6db9c" stroke-width="0.8" stroke-opacity="1.0"/>
<line x1="607.42" y1="72.24" x2="607.42" y2="219.29" stroke="#c6db9c" stroke-width="0.8" stroke-opacity="1.0"/>
<line x1="609.40" y1="72.80" x2="609.40" y2="219.27" stroke="#c6db9c" stroke-width="0.8" stroke-opacity="1.0"/>
<line x1="610.83" y1="72.65" x2="610.83" y2="218.17" stroke="#c6db9c" stroke-width="0.8" stroke-opacity="1.0"/>
<line x1="612.78" y1="72.59" x2="612.78" y2="219.53" stroke="#c6db9c" stroke-width="0.8" stroke-opacity="1.0"/>
<line x1="614.29" y1="72.48" x2="614.29" y2="218.43" stroke="#c6db9c" stroke-width="0.8" stroke-opacity="1.0"/>
<line x1="616.06" y1="72.55" x2="616.06" y2="218.59" stroke="#c6db9c" stroke-width="0.8" stroke-opacity="1.0"/>
<line x1="618.24" y1="73.33" x2="618.24" y2="219.54" stroke="#c6db9c" stroke-width="0.8" stroke-opacity="1.0"/>
<line x1="619.85" y1="72.07" x2="619.85" y2="219.56" stroke="#c6db9c" stroke-width="0.8" stroke-opacity="1.0"/>
<line x1="621.76" y1="72.87" x2="621.76" y2="219.06" stroke="#c6db9c" stroke-width="0.8" stroke-opacity="1.0"/>
<line x1="623.46" y1="73.10" x2="623.46" y2="219.57" stroke="#c6db9c" stroke-width="0.8" stroke-opacity="1.0"/>
<line x1="519.58" y1="109.88" x2="519.58" y2="208.12" stroke="#d3b9f8" stroke-width="1.0" stroke-opacity="1.0"/>
<line x1="522.22" y1="109.59" x2="522.22" y2="208.38" stroke="#d3b9f8" stroke-width="1.0" stroke-opacity="1.0"/>
<line x1="524.86" y1="109.79" x2="524.86" y2="207.93" stroke="#d3b9f8" stroke-width="1.0" stroke-opacity="1.0"/>
<line x1="527.51" y1="109.48" x2="527.51" y2="208.45" stroke="#d3b9f8" stroke-width="1.0" stroke-opacity="1.0"/>
<line x1="530.15" y1="109.79" x2="530.15" y2="208.13" stroke="#d3b9f8" stroke-width="1.0" stroke-opacity="1.0"/>
<line x1="532.79" y1="109.96" x2="532.79" y2="207.88" stroke="#d3b9f8" stroke-width="1.0" stroke-opacity="1.0"/>
<line x1="535.44" y1="109.93" x2="535.44" y2="208.26" stroke="#d3b9f8" stroke-width="1.0" stroke-opacity="1.0"/>
<line x1="538.08" y1="109.44" x2="538.08" y2="208.12" stroke="#d3b9f8" stroke-width="1.0" stroke-opacity="1.0"/>
<line x1="540.72" y1="110.20" x2="540.72" y2="208.36" stroke="#d3b9f8" stroke-width="1.0" stroke-opacity="1.0"/>
<line x1="543.36" y1="109.97" x2="543.36" y2="208.55" stroke="#d3b9f8" stroke-width="1.0" stroke-opacity="1.0"/>
<line x1="546.01" y1="109.84" x2="546.01" y2="208.05" stroke="#d3b9f8" stroke-width="1.0" stroke-opacity="1.0"/>
<line x1="548.65" y1="110.05" x2="548.65" y2="207.96" stroke="#d3b9f8" stroke-width="1.0" stroke-opacity="1.0"/>
<line x1="551.29" y1="109.46" x2="551.29" y2="208.18" stroke="#d3b9f8" stroke-width="1.0" stroke-opacity="1.0"/>
<line x1="553.94" y1="109.75" x2="553.94" y2="208.50" stroke="#d3b9f8" stroke-width="1.0" stroke-opacity="1.0"/>
<line x1="556.58" y1="110.49" x2="556.58" y2="207.87" stroke="#d3b9f8" stroke-width="1.0" stroke-opacity="1.0"/>
<line x1="559.22" y1="110.22" x2="559.22" y2="208.43" stroke="#d3b9f8" stroke-width="1.0" stroke-opacity="1.0"/>
<line x1="561.87" y1="109.50" x2="561.87" y2="208.04" stroke="#d3b9f8" stroke-width="1.0" stroke-opacity="1.0"/>
<line x1="564.51" y1="110.41" x2="564.51" y2="208.35" stroke="#d3b9f8" stroke-width="1.0" stroke-opacity="1.0"/>
<line x1="567.15" y1="110.27" x2="567.15" y2="208.39" stroke="#d3b9f8" stroke-width="1.0" stroke-opacity="1.0"/>
<line x1="569.79" y1="110.55" x2="569.79" y2="208.20" stroke="#d3b9f8" stroke-width="1.0" stroke-opacity="1.0"/>
<line x1="466.72" y1="133.11" x2="466.72" y2="202.57" stroke="#6ccdf5" stroke-width="1.0" stroke-opacity="1.0"/>
<line x1="472.00" y1="132.74" x2="472.00" y2="202.11" stroke="#6ccdf5" stroke-width="1.0" stroke-opacity="1.0"/>
<line x1="477.29" y1="132.70" x2="477.29" y2="202.90" stroke="#6ccdf5" stroke-width="1.0" stroke-opacity="1.0"/>
<line x1="482.58" y1="132.62" x2="482.58" y2="202.81" stroke="#6ccdf5" stroke-width="1.0" stroke-opacity="1.0"/>
<line x1="487.86" y1="133.38" x2="487.86" y2="203.30" stroke="#6ccdf5" stroke-width="1.0" stroke-opacity="1.0"/>
<line x1="493.15" y1="133.13" x2="493.15" y2="203.21" stroke="#6ccdf5" stroke-width="1.0" stroke-opacity="1.0"/>
<line x1="498.43" y1="133.41" x2="498.43" y2="202.54" stroke="#6ccdf5" stroke-width="1.0" stroke-opacity="1.0"/>
<line x1="503.72" y1="132.82" x2="503.72" y2="202.33" stroke="#6ccdf5" stroke-width="1.0" stroke-opacity="1.0"/>
<line x1="509.01" y1="133.64" x2="509.01" y2="203.35" stroke="#6ccdf5" stroke-width="1.0" stroke-opacity="1.0"/>
<line x1="514.29" y1="133.44" x2="514.29" y2="202.62" stroke="#6ccdf5" stroke-width="1.0" stroke-opacity="1.0"/>
<line x1="415.55" y1="150.04" x2="415.55" y2="165.90" stroke="#b0f2bc" stroke-width="1.0" stroke-opacity="1.0"/>
<line x1="416.95" y1="165.90" x2="416.95" y2="198.10" stroke="#b0f2bc" stroke-width="1.0" stroke-opacity="1.0"/>
<line x1="426.12" y1="149.89" x2="426.12" y2="165.90" stroke="#b0f2bc" stroke-width="1.0" stroke-opacity="1.0"/>
<line x1="427.52" y1="165.90" x2="427.52" y2="198.02" stroke="#b0f2bc" stroke-width="1.0" stroke-opacity="1.0"/>
<line x1="436.69" y1="150.23" x2="436.69" y2="165.90" stroke="#b0f2bc" stroke-width="1.0" stroke-opacity="1.0"/>
<line x1="438.09" y1="165.90" x2="438.09" y2="197.94" stroke="#b0f2bc" stroke-width="1.0" stroke-opacity="1.0"/>
<line x1="447.26" y1="150.03" x2="447.26" y2="165.90" stroke="#b0f2bc" stroke-width="1.0" stroke-opacity="1.0"/>
<line x1="448.66" y1="165.90" x2="448.66" y2="198.10" stroke="#b0f2bc" stroke-width="1.0" stroke-opacity="1.0"/>
<line x1="457.84" y1="149.89" x2="457.84" y2="165.90" stroke="#b0f2bc" stroke-width="1.0" stroke-opacity="1.0"/>
<line x1="459.24" y1="165.90" x2="459.24" y2="197.97" stroke="#b0f2bc" stroke-width="1.0" stroke-opacity="1.0"/>
<polyline points="412.80,165.85 413.01,165.77 413.22,165.70 413.43,165.97 413.65,165.96 413.86,166.01 414.07,165.98 414.28,165.89 414.49,165.99 414.70,165.97 414.91,166.05 415.13,166.04 415.34,166.11 415.55,165.98 415.76,165.80 415.97,165.71 416.18,165.89 416.39,165.76 416.61,165.89 416.82,165.95 417.03,165.75 417.24,165.94 417.45,165.73 417.66,165.96 417.87,166.07 418.09,165.87 418.30,165.98 418.51,166.03 418.72,165.82 418.93,165.93 419.14,165.76 419.35,166.00 419.57,166.02 419.78,166.15 419.99,165.85 420.20,165.80 420.41,165.90 420.62,165.94 420.83,165.79 421.05,166.00 421.26,166.09 421.47,165.92 421.68,165.77 421.89,165.90 422.10,165.86 422.31,165.95 422.53,165.92 422.74,165.87 422.95,165.69 423.16,165.65 423.37,165.76 423.58,165.92 423.79,165.88 424.01,165.99 424.22,165.96 424.43,166.08 424.64,166.05 424.85,165.91 425.06,165.76 425.27,165.66 425.49,165.59 425.70,165.89 425.91,166.05 426.12,166.07 426.33,165.83 426.54,165.93 426.76,165.77 426.97,165.99 427.18,166.01 427.39,166.05 427.60,166.02 427.81,165.93 428.02,166.05 428.24,166.16 428.45,165.93 428.66,165.89 428.87,165.99 429.08,166.02 429.29,165.92 429.50,165.89 429.72,166.08 429.93,165.90 430.14,165.79 430.35,165.92 430.56,165.82 430.77,166.02 430.98,165.89 431.20,166.06 431.41,165.93 431.62,166.07 431.83,166.09 432.04,166.09 432.25,165.88 432.46,165.76 432.68,165.64 432.89,165.64 433.10,165.84 433.31,165.69 433.52,165.69 433.73,165.82 433.94,165.72 434.16,165.74 434.37,165.71 434.58,165.88 434.79,165.74 435.00,166.02 435.21,166.00 435.42,166.03 435.64,165.99 435.85,165.94 436.06,166.11 436.27,166.16 436.48,166.16 436.69,165.84 436.90,165.91 437.12,166.08 437.33,166.05 437.54,165.98 437.75,166.00 437.96,165.82 438.17,165.95 438.38,166.04 438.60,165.80 438.81,165.85 439.02,165.91 439.23,165.85 439.44,165.95 439.65,166.09 439.86,166.16 440.08,165.95 440.29,165.79 440.50,165.99 440.71,165.99 440.92,166.08 441.13,166.14 441.34,165.93 441.56,165.95 441.77,165.85 441.98,165.99 442.19,166.02 442.40,165.86 442.61,165.88 442.82,165.93 443.04,165.81 443.25,165.73 443.46,165.80 443.67,165.68 443.88,165.79 444.09,166.02 444.30,166.09 444.52,165.82 444.73,165.99 444.94,166.03 445.15,166.05 445.36,165.79 445.57,165.95 445.78,165.80 446.00,165.97 446.21,165.86 446.42,165.83 446.63,165.73 446.84,165.96 447.05,165.82 447.26,166.01 447.48,165.96 447.69,165.79 447.90,165.91 448.11,165.92 448.32,165.72 448.53,165.94 448.74,165.83 448.96,165.67 449.17,165.89 449.38,165.99 449.59,165.90 449.80,165.77 450.01,165.85 450.22,165.91 450.44,165.98 450.65,165.94 450.86,165.95 451.07,166.01 451.28,165.83 451.49,165.74 451.70,165.81 451.92,165.96 452.13,166.05 452.34,166.12 452.55,165.98 452.76,166.03 452.97,165.81 453.19,165.81 453.40,165.68 453.61,165.92 453.82,166.11 454.03,166.07 454.24,166.09 454.45,165.94 454.67,166.04 454.88,165.80 455.09,165.80 455.30,165.79 455.51,165.99 455.72,165.81 455.93,165.72 456.15,165.65 456.36,165.91 456.57,165.83 456.78,166.03 456.99,165.89 457.20,166.03 457.41,165.84 457.63,166.03 457.84,166.16 458.05,166.18 458.26,166.12 458.47,166.17 458.68,166.20 458.89,166.24 459.11,165.98 459.32,166.08 459.53,166.10 459.74,165.94 459.95,165.79 460.16,166.00 460.37,165.94 460.59,165.93 460.80,166.07 461.01,165.98 461.22,165.84 461.43,165.94 461.64,165.94 461.85,165.83 462.07,165.94 462.28,166.08 462.49,165.89 462.70,166.02 462.91,166.06 463.12,165.99 463.33,165.82 463.55,165.93 463.76,165.83 463.97,165.76 464.18,165.97 464.39,165.84 464.60,165.71 464.81,165.94 465.03,166.12 465.24,165.93 465.45,165.88 465.66,165.91 465.87,166.00 466.08,165.76" fill="none" stroke="#7eec92" stroke-width="1.5" stroke-opacity="1.0" stroke-linejoin="round"/>
<polyline points="465.66,165.97 465.87,165.70 466.08,165.69 466.29,165.65 466.51,165.90 466.72,165.99 466.93,166.14 467.14,165.81 467.35,165.82 467.56,165.62 467.77,165.62 467.99,165.76 468.20,165.59 468.41,165.60 468.62,165.82 468.83,165.88 469.04,165.75 469.25,165.87 469.47,166.04 469.68,165.72 469.89,165.96 470.10,166.03 470.31,165.89 470.52,165.72 470.73,166.04 470.95,165.89 471.16,165.69 471.37,165.59 471.58,165.92 471.79,165.96 472.00,166.08 472.21,166.11 472.43,166.02 472.64,166.20 472.85,165.99 473.06,165.97 473.27,166.10 473.48,166.06 473.69,166.16 473.91,166.07 474.12,166.09 474.33,165.77 474.54,165.70 474.75,165.69 474.96,165.59 475.17,165.61 475.39,165.56 475.60,165.62 475.81,165.83 476.02,165.80 476.23,165.78 476.44,165.70 476.65,165.68 476.87,166.01 477.08,166.03 477.29,166.02 477.50,165.79 477.71,165.96 477.92,165.76 478.13,165.77 478.35,166.08 478.56,166.06 478.77,166.01 478.98,166.05 479.19,166.14 479.40,166.16 479.62,165.89 479.83,165.66 480.04,165.69 480.25,165.68 480.46,165.64 480.67,165.99 480.88,166.14 481.10,165.92 481.31,165.99 481.52,165.89 481.73,166.10 481.94,165.98 482.15,165.82 482.36,165.73 482.58,165.85 482.79,165.76 483.00,165.87 483.21,166.08 483.42,165.94 483.63,165.78 483.84,166.09 484.06,166.00 484.27,165.75 484.48,165.60 484.69,165.55 484.90,165.79 485.11,165.99 485.32,165.91 485.54,165.69 485.75,165.73 485.96,166.06 486.17,166.00 486.38,166.18 486.59,166.22 486.80,165.82 487.02,165.97 487.23,166.03 487.44,165.98 487.65,165.82 487.86,165.93 488.07,165.72 488.28,165.78 488.50,165.82 488.71,166.08 488.92,166.18 489.13,165.92 489.34,165.91 489.55,165.74 489.76,166.03 489.98,166.15 490.19,165.92 490.40,165.98 490.61,166.00 490.82,165.77 491.03,165.97 491.24,165.95 491.46,166.07 491.67,166.00 491.88,165.70 492.09,165.71 492.30,165.57 492.51,165.95 492.72,166.11 492.94,166.17 493.15,165.94 493.36,165.70 493.57,165.99 493.78,166.17 493.99,165.83 494.20,165.86 494.42,165.66 494.63,165.91 494.84,166.04 495.05,165.78 495.26,165.83 495.47,165.89 495.68,165.78 495.90,166.02 496.11,165.92 496.32,165.77 496.53,165.85 496.74,165.99 496.95,165.80 497.16,165.75 497.38,166.07 497.59,166.06 497.80,165.95 498.01,165.93 498.22,165.73 498.43,165.68 498.64,165.71 498.86,165.85 499.07,165.74 499.28,165.68 499.49,165.58 499.70,165.80 499.91,165.72 500.12,166.01 500.34,166.14 500.55,165.80 500.76,165.72 500.97,165.89 501.18,165.75 501.39,165.64 501.60,165.99 501.82,165.98 502.03,165.93 502.24,166.06 502.45,166.13 502.66,165.86 502.87,165.68 503.08,165.75 503.30,165.79 503.51,165.83 503.72,165.98 503.93,166.03 504.14,166.21 504.35,165.85 504.56,165.83 504.78,165.78 504.99,166.02 505.20,165.84 505.41,165.71 505.62,165.78 505.83,165.80 506.05,165.74 506.26,165.69 506.47,166.01 506.68,165.93 506.89,166.09 507.10,166.02 507.31,165.74 507.53,166.07 507.74,166.15 507.95,166.26 508.16,166.29 508.37,166.27 508.58,165.92 508.79,165.90 509.01,165.76 509.22,165.78 509.43,165.62 509.64,165.70 509.85,166.04 510.06,165.85 510.27,166.02 510.49,165.94 510.70,165.88 510.91,166.12 511.12,166.26 511.33,166.11 511.54,166.11 511.75,165.83 511.97,165.77 512.18,166.07 512.39,166.02 512.60,165.98 512.81,166.07 513.02,165.76 513.23,165.87 513.45,165.89 513.66,166.07 513.87,165.81 514.08,166.09 514.29,165.78 514.50,165.68 514.71,165.84 514.93,165.96 515.14,165.80 515.35,165.66 515.56,165.97 515.77,165.81 515.98,165.90 516.19,165.96 516.41,165.89 516.62,165.94 516.83,165.93 517.04,166.13 517.25,165.87 517.46,165.99 517.67,165.82 517.89,165.81 518.10,165.94 518.31,165.82 518.52,165.77" fill="none" stroke="#5cc6f2" stroke-width="1.8" stroke-opacity="1.0" stroke-linejoin="round"/>
<polyline points="518.52,165.67 518.73,165.88 518.94,165.71 519.15,165.79 519.37,165.93 519.58,166.06 519.79,165.96 520.00,165.93 520.21,165.67 520.42,165.75 520.63,165.76 520.85,166.01 521.06,165.98 521.27,166.07 521.48,165.95 521.69,165.76 521.90,166.01 522.11,166.11 522.33,165.94 522.54,165.72 522.75,165.82 522.96,165.86 523.17,166.01 523.38,166.01 523.59,165.96 523.81,165.97 524.02,165.87 524.23,165.66 524.44,165.56 524.65,165.95 524.86,166.10 525.07,165.90 525.29,166.09 525.50,166.01 525.71,165.76 525.92,166.01 526.13,165.99 526.34,166.16 526.55,166.12 526.77,165.81 526.98,165.92 527.19,166.05 527.40,166.17 527.61,165.95 527.82,165.94 528.03,166.02 528.25,165.79 528.46,166.02 528.67,166.10 528.88,165.78 529.09,165.88 529.30,165.83 529.51,165.71 529.73,165.86 529.94,166.11 530.15,166.03 530.36,165.77 530.57,165.83 530.78,166.01 530.99,166.18 531.21,166.15 531.42,165.79 531.63,166.08 531.84,166.04 532.05,165.76 532.26,165.64 532.48,165.57 532.69,165.82 532.90,165.68 533.11,165.95 533.32,165.73 533.53,165.83 533.74,165.84 533.96,165.64 534.17,165.52 534.38,165.91 534.59,166.14 534.80,165.83 535.01,165.98 535.22,166.19 535.44,166.25 535.65,166.27 535.86,166.00 536.07,166.06 536.28,165.98 536.49,166.16 536.70,166.13 536.92,166.19 537.13,166.22 537.34,166.00 537.55,166.06 537.76,165.78 537.97,165.69 538.18,166.01 538.40,165.91 538.61,166.00 538.82,165.99 539.03,165.82 539.24,165.90 539.45,166.11 539.66,165.92 539.88,165.83 540.09,165.71 540.30,165.64 540.51,165.94 540.72,166.02 540.93,166.19 541.14,166.13 541.36,166.25 541.57,165.93 541.78,165.76 541.99,165.69 542.20,165.74 542.41,166.06 542.62,165.84 542.84,165.85 543.05,165.66 543.26,165.54 543.47,165.74 543.68,165.88 543.89,165.89 544.10,166.10 544.32,166.18 544.53,166.27 544.74,166.12 544.95,165.89 545.16,165.71 545.37,165.94 545.58,165.75 545.80,165.58 546.01,165.84 546.22,165.68 546.43,165.85 546.64,165.73 546.85,165.78 547.06,165.60 547.28,165.69 547.49,165.71 547.70,165.68 547.91,165.61 548.12,165.79 548.33,165.94 548.54,165.77 548.76,165.61 548.97,165.64 549.18,165.87 549.39,165.77 549.60,165.91 549.81,165.69 550.02,165.90 550.24,165.72 550.45,165.67 550.66,165.90 550.87,165.89 551.08,165.96 551.29,165.83 551.50,165.95 551.72,165.82 551.93,165.85 552.14,165.85 552.35,166.08 552.56,166.12 552.77,166.03 552.98,166.14 553.20,166.07 553.41,166.10 553.62,166.01 553.83,165.99 554.04,165.80 554.25,166.07 554.46,166.05 554.68,166.14 554.89,166.07 555.10,165.75 555.31,165.63 555.52,165.95 555.73,166.03 555.94,166.17 556.16,166.23 556.37,165.93 556.58,166.16 556.79,166.08 557.00,166.11 557.21,166.01 557.42,165.83 557.64,165.86 557.85,165.86 558.06,165.78 558.27,165.76 558.48,165.80 558.69,165.73 558.91,165.64 559.12,165.92 559.33,165.84 559.54,165.80 559.75,165.99 559.96,166.05 560.17,165.95 560.39,165.83 560.60,166.01 560.81,165.82 561.02,165.84 561.23,165.81 561.44,166.10 561.65,165.87 561.87,165.93 562.08,165.93 562.29,165.69 562.50,165.64 562.71,165.96 562.92,166.07 563.13,165.84 563.35,165.71 563.56,166.02 563.77,166.01 563.98,166.06 564.19,166.18 564.40,165.92 564.61,165.91 564.83,166.11 565.04,165.85 565.25,165.75 565.46,166.02 565.67,166.13 565.88,166.02 566.09,165.78 566.31,166.01 566.52,165.86 566.73,166.01 566.94,165.83 567.15,165.69 567.36,165.89 567.57,165.84 567.79,165.81 568.00,165.82 568.21,165.84 568.42,165.86 568.63,165.95 568.84,165.73 569.05,165.90 569.27,165.89 569.48,166.06 569.69,165.87 569.90,165.97 570.11,165.79 570.32,165.94 570.53,166.01 570.75,165.98 570.96,165.93 571.17,166.14 571.38,165.95" fill="none" stroke="#c39cf6" stroke-width="1.8" stroke-opacity="1.0" stroke-linejoin="round"/>
<polyline points="571.38,165.85 571.59,165.90 571.80,166.08 572.01,165.83 572.23,165.73 572.44,165.58 572.65,165.55 572.86,165.48 573.07,165.52 573.28,165.72 573.49,166.05 573.71,166.07 573.92,165.93 574.13,165.87 574.34,165.98 574.55,165.85 574.76,165.66 574.97,165.95 575.19,165.98 575.40,165.75 575.61,165.61 575.82,165.55 576.03,165.96 576.24,165.73 576.45,165.88 576.67,166.12 576.88,165.78 577.09,165.78 577.30,165.83 577.51,166.07 577.72,165.83 577.93,165.74 578.15,165.70 578.36,165.57 578.57,165.82 578.78,166.02 578.99,165.93 579.20,165.68 579.41,165.90 579.63,166.02 579.84,166.04 580.05,165.88 580.26,166.06 580.47,166.04 580.68,166.02 580.89,165.98 581.11,165.81 581.32,165.83 581.53,166.01 581.74,166.05 581.95,165.90 582.16,166.06 582.37,166.15 582.59,165.80 582.80,165.68 583.01,165.65 583.22,165.53 583.43,165.84 583.64,165.94 583.85,165.94 584.07,166.17 584.28,165.96 584.49,165.78 584.70,165.65 584.91,165.69 585.12,165.97 585.34,165.99 585.55,165.72 585.76,165.78 585.97,165.61 586.18,165.82 586.39,165.67 586.60,165.62 586.82,165.83 587.03,166.03 587.24,166.03 587.45,165.86 587.66,165.95 587.87,165.81 588.08,165.61 588.30,165.64 588.51,165.86 588.72,165.95 588.93,165.77 589.14,166.00 589.35,166.12 589.56,165.90 589.78,166.13 589.99,165.90 590.20,165.68 590.41,165.80 590.62,166.03 590.83,166.02 591.04,165.98 591.26,165.93 591.47,165.81 591.68,165.75 591.89,165.78 592.10,165.86 592.31,166.10 592.52,165.79 592.74,165.72 592.95,166.03 593.16,166.04 593.37,165.76 593.58,165.80 593.79,165.93 594.00,166.12 594.22,165.80 594.43,166.05 594.64,166.11 594.85,165.89 595.06,165.91 595.27,166.07 595.48,165.86 595.70,165.98 595.91,165.97 596.12,165.72 596.33,165.70 596.54,165.75 596.75,165.65 596.96,166.00 597.18,165.82 597.39,165.73 597.60,165.86 597.81,165.89 598.02,165.81 598.23,165.77 598.44,165.83 598.66,166.07 598.87,165.77 599.08,166.04 599.29,166.19 599.50,166.14 599.71,166.17 599.92,165.98 600.14,166.17 600.35,166.16 600.56,166.12 600.77,165.99 600.98,165.80 601.19,165.95 601.40,166.04 601.62,165.72 601.83,165.72 602.04,165.83 602.25,165.72 602.46,165.62 602.67,165.61 602.88,165.51 603.10,165.52 603.31,165.65 603.52,165.78 603.73,165.91 603.94,165.81 604.15,165.67 604.36,165.99 604.58,166.01 604.79,166.05 605.00,166.07 605.21,165.89 605.42,165.94 605.63,165.83 605.84,165.94 606.06,166.08 606.27,165.75 606.48,165.97 606.69,165.74 606.90,165.58 607.11,165.53 607.32,165.75 607.54,166.00 607.75,166.16 607.96,165.86 608.17,165.84 608.38,166.09 608.59,166.19 608.80,166.21 609.02,165.93 609.23,165.80 609.44,165.68 609.65,165.67 609.86,165.74 610.07,165.97 610.28,166.01 610.50,165.79 610.71,165.69 610.92,165.77 611.13,166.03 611.34,165.95 611.55,166.07 611.77,166.08 611.98,166.18 612.19,166.04 612.40,165.91 612.61,165.88 612.82,166.04 613.03,165.86 613.25,165.73 613.46,165.98 613.67,165.93 613.88,165.99 614.09,165.78 614.30,165.61 614.51,165.62 614.73,165.72 614.94,165.58 615.15,165.63 615.36,165.98 615.57,165.91 615.78,165.66 615.99,165.93 616.21,165.82 616.42,165.69 616.63,165.87 616.84,165.97 617.05,165.84 617.26,165.98 617.47,166.13 617.69,165.93 617.90,165.92 618.11,165.66 618.32,165.83 618.53,165.76 618.74,165.91 618.95,166.03 619.17,165.89 619.38,165.98 619.59,166.16 619.80,165.86 620.01,166.03 620.22,165.95 620.43,166.15 620.65,165.81 620.86,165.80 621.07,165.68 621.28,165.67 621.49,165.98 621.70,165.96 621.91,165.86 622.13,166.11 622.34,165.78 622.55,165.60 622.76,165.88 622.97,165.92 623.18,166.08 623.39,165.99 623.61,166.17 623.82,165.95 624.03,165.79 624.24,166.04" fill="none" stroke="#9cc46a" stroke-width="2.2" stroke-opacity="1.0" stroke-linejoin="round"/>
<polyline points="624.24,165.76 624.45,165.82 624.66,165.61 624.87,165.66 625.09,165.52 625.30,165.42 625.51,165.53 625.72,165.49 625.93,165.58 626.14,165.89 626.35,165.61 626.57,165.83 626.78,165.65 626.99,165.95 627.20,166.07 627.41,165.81 627.62,166.06 627.83,166.11 628.05,165.75 628.26,165.77 628.47,165.96 628.68,166.18 628.89,165.84 629.10,165.72 629.31,165.98 629.53,166.22 629.74,165.81 629.95,165.61 630.16,165.91 630.37,165.79 630.58,165.78 630.79,166.07 631.01,166.13 631.22,166.11 631.43,166.23 631.64,166.20 631.85,166.24 632.06,166.15 632.27,166.08 632.49,165.73 632.70,166.06 632.91,166.23 633.12,165.97 633.33,166.01 633.54,165.67 633.75,165.78 633.97,165.92 634.18,165.78 634.39,165.79 634.60,166.05 634.81,165.76 635.02,165.80 635.23,165.60 635.45,165.68 635.66,166.02 635.87,166.03 636.08,165.68 636.29,166.01 636.50,166.05 636.71,165.99 636.93,165.82 637.14,165.74 637.35,165.63 637.56,165.84 637.77,165.60 637.98,166.02 638.20,165.72 638.41,165.88 638.62,165.94 638.83,165.84 639.04,165.74 639.25,165.78 639.46,165.74 639.68,166.10 639.89,166.09 640.10,166.01 640.31,166.05 640.52,165.97 640.73,165.72 640.94,165.53 641.16,166.00 641.37,166.15 641.58,165.78 641.79,165.91 642.00,166.08 642.21,166.22 642.42,165.80 642.64,165.63 642.85,165.70 643.06,165.86 643.27,165.63 643.48,165.88 643.69,166.04 643.90,165.94 644.12,166.13 644.33,165.95 644.54,166.12 644.75,165.94 644.96,165.86 645.17,165.81 645.38,165.98 645.60,166.17 645.81,165.78 646.02,165.89 646.23,166.10 646.44,166.11 646.65,165.85 646.86,165.79 647.08,166.08 647.29,165.82 647.50,166.13 647.71,165.95 647.92,165.94 648.13,166.04 648.34,166.08 648.56,166.04 648.77,166.19 648.98,166.13 649.19,166.27 649.40,166.17 649.61,166.09 649.82,165.73 650.04,166.06 650.25,165.82 650.46,165.69 650.67,165.53 650.88,165.79 651.09,165.77 651.30,165.92 651.52,166.10 651.73,166.27 651.94,166.26 652.15,166.29 652.36,166.02 652.57,165.69 652.78,165.96 653.00,166.23 653.21,166.04 653.42,166.21 653.63,166.09 653.84,165.93 654.05,166.11 654.26,165.74 654.48,165.74 654.69,165.94 654.90,165.67 655.11,165.82 655.32,165.79 655.53,165.68 655.74,165.73 655.96,165.96 656.17,166.03 656.38,166.02 656.59,166.13 656.80,165.96 657.01,165.98 657.22,165.70 657.44,165.90 657.65,166.00 657.86,166.02 658.07,166.14 658.28,166.31 658.49,166.24 658.70,166.35 658.92,166.22 659.13,165.93 659.34,166.13 659.55,166.12 659.76,166.09 659.97,165.78 660.18,165.88 660.40,165.79 660.61,165.89 660.82,166.15 661.03,165.95 661.24,165.64 661.45,165.54 661.66,165.74 661.88,166.03 662.09,165.69 662.30,165.74 662.51,165.73 662.72,165.78 662.93,165.92 663.14,165.91 663.36,165.77 663.57,166.06 663.78,166.16 663.99,166.27 664.20,165.86 664.41,165.90 664.63,165.74 664.84,165.58 665.05,166.00 665.26,166.04 665.47,165.95 665.68,166.08 665.89,166.20 666.11,166.03 666.32,165.73 666.53,166.06 666.74,165.98 666.95,165.89 667.16,165.71 667.37,165.82 667.59,166.08 667.80,166.25 668.01,165.86 668.22,165.65 668.43,166.07 668.64,166.00 668.85,166.03 669.07,166.08 669.28,165.94 669.49,165.86 669.70,166.10 669.91,166.07 670.12,165.70 670.33,165.52 670.55,165.91 670.76,165.96 670.97,166.08 671.18,165.99 671.39,166.07 671.60,165.89 671.81,165.82 672.03,165.76 672.24,165.71 672.45,166.07 672.66,166.21 672.87,166.08 673.08,165.72 673.29,166.06 673.51,166.17 673.72,166.12 673.93,166.29 674.14,166.25 674.35,166.14 674.56,165.92 674.77,165.98 674.99,165.90 675.20,165.70 675.41,165.60 675.62,165.51 675.83,165.82 676.04,165.78 676.25,166.13 676.47,166.27 676.68,165.95 676.89,165.69 677.10,165.99" fill="none" stroke="#fbb4be" stroke-width="1.8" stroke-opacity="1.0" stroke-linejoin="round"/>
<rect x="270.84" y="337.39" width="52.46" height="171.05" fill="#fff4f5" fill-opacity="1"/>
<line x1="270.93" y1="338.52" x2="270.93" y2="508.44" stroke="#ffc3cc" stroke-width="0.75" stroke-opacity="1.0"/>
<line x1="272.29" y1="338.73" x2="272.29" y2="507.99" stroke="#ffc3cc" stroke-width="0.75" stroke-opacity="1.0"/>
<line x1="273.79" y1="338.55" x2="273.79" y2="508.37" stroke="#ffc3cc" stroke-width="0.75" stroke-opacity="1.0"/>
<line x1="275.19" y1="336.71" x2="275.19" y2="508.59" stroke="#ffc3cc" stroke-width="0.75" stroke-opacity="1.0"/>
<line x1="276.33" y1="336.60" x2="276.33" y2="508.12" stroke="#ffc3cc" stroke-width="0.75" stroke-opacity="1.0"/>
<line x1="277.74" y1="337.71" x2="277.74" y2="508.27" stroke="#ffc3cc" stroke-width="0.75" stroke-opacity="1.0"/>
<line x1="278.89" y1="337.61" x2="278.89" y2="508.65" stroke="#ffc3cc" stroke-width="0.75" stroke-opacity="1.0"/>
<line x1="280.55" y1="336.52" x2="280.55" y2="508.58" stroke="#ffc3cc" stroke-width="0.75" stroke-opacity="1.0"/>
<line x1="281.94" y1="336.55" x2="281.94" y2="507.95" stroke="#ffc3cc" stroke-width="0.75" stroke-opacity="1.0"/>
<line x1="283.03" y1="339.09" x2="283.03" y2="508.79" stroke="#ffc3cc" stroke-width="0.75" stroke-opacity="1.0"/>
<line x1="284.47" y1="337.89" x2="284.47" y2="508.00" stroke="#ffc3cc" stroke-width="0.75" stroke-opacity="1.0"/>
<line x1="285.54" y1="338.69" x2="285.54" y2="508.28" stroke="#ffc3cc" stroke-width="0.75" stroke-opacity="1.0"/>
<line x1="287.01" y1="338.19" x2="287.01" y2="508.04" stroke="#ffc3cc" stroke-width="0.75" stroke-opacity="1.0"/>
<line x1="288.29" y1="336.71" x2="288.29" y2="508.08" stroke="#ffc3cc" stroke-width="0.75" stroke-opacity="1.0"/>
<line x1="289.73" y1="338.65" x2="289.73" y2="508.08" stroke="#ffc3cc" stroke-width="0.75" stroke-opacity="1.0"/>
<line x1="290.98" y1="338.00" x2="290.98" y2="507.97" stroke="#ffc3cc" stroke-width="0.75" stroke-opacity="1.0"/>
<line x1="292.50" y1="337.92" x2="292.50" y2="507.87" stroke="#ffc3cc" stroke-width="0.75" stroke-opacity="1.0"/>
<line x1="293.59" y1="336.55" x2="293.59" y2="507.99" stroke="#ffc3cc" stroke-width="0.75" stroke-opacity="1.0"/>
<line x1="294.97" y1="336.97" x2="294.97" y2="508.00" stroke="#ffc3cc" stroke-width="0.75" stroke-opacity="1.0"/>
<line x1="296.17" y1="337.59" x2="296.17" y2="508.91" stroke="#ffc3cc" stroke-width="0.75" stroke-opacity="1.0"/>
<line x1="297.41" y1="336.55" x2="297.41" y2="508.50" stroke="#ffc3cc" stroke-width="0.75" stroke-opacity="1.0"/>
<line x1="298.76" y1="339.12" x2="298.76" y2="508.54" stroke="#ffc3cc" stroke-width="0.75" stroke-opacity="1.0"/>
<line x1="300.26" y1="338.06" x2="300.26" y2="508.87" stroke="#ffc3cc" stroke-width="0.75" stroke-opacity="1.0"/>
<line x1="301.55" y1="336.62" x2="301.55" y2="509.00" stroke="#ffc3cc" stroke-width="0.75" stroke-opacity="1.0"/>
<line x1="302.99" y1="336.76" x2="302.99" y2="508.38" stroke="#ffc3cc" stroke-width="0.75" stroke-opacity="1.0"/>
<line x1="304.46" y1="338.69" x2="304.46" y2="508.65" stroke="#ffc3cc" stroke-width="0.75" stroke-opacity="1.0"/>
<line x1="305.41" y1="337.97" x2="305.41" y2="508.99" stroke="#ffc3cc" stroke-width="0.75" stroke-opacity="1.0"/>
<line x1="306.67" y1="337.14" x2="306.67" y2="508.23" stroke="#ffc3cc" stroke-width="0.75" stroke-opacity="1.0"/>
<line x1="308.15" y1="336.56" x2="308.15" y2="507.98" stroke="#ffc3cc" stroke-width="0.75" stroke-opacity="1.0"/>
<line x1="309.51" y1="337.08" x2="309.51" y2="507.75" stroke="#ffc3cc" stroke-width="0.75" stroke-opacity="1.0"/>
<line x1="310.97" y1="336.69" x2="310.97" y2="508.24" stroke="#ffc3cc" stroke-width="0.75" stroke-opacity="1.0"/>
<line x1="312.15" y1="337.73" x2="312.15" y2="508.41" stroke="#ffc3cc" stroke-width="0.75" stroke-opacity="1.0"/>
<line x1="313.69" y1="337.00" x2="313.69" y2="507.85" stroke="#ffc3cc" stroke-width="0.75" stroke-opacity="1.0"/>
<line x1="314.54" y1="336.96" x2="314.54" y2="507.97" stroke="#ffc3cc" stroke-width="0.75" stroke-opacity="1.0"/>
<line x1="316.09" y1="339.09" x2="316.09" y2="508.56" stroke="#ffc3cc" stroke-width="0.75" stroke-opacity="1.0"/>
<line x1="317.63" y1="338.93" x2="317.63" y2="508.33" stroke="#ffc3cc" stroke-width="0.75" stroke-opacity="1.0"/>
<line x1="318.50" y1="337.62" x2="318.50" y2="508.36" stroke="#ffc3cc" stroke-width="0.75" stroke-opacity="1.0"/>
<line x1="320.02" y1="336.89" x2="320.02" y2="508.84" stroke="#ffc3cc" stroke-width="0.75" stroke-opacity="1.0"/>
<line x1="321.58" y1="337.23" x2="321.58" y2="508.33" stroke="#ffc3cc" stroke-width="0.75" stroke-opacity="1.0"/>
<line x1="322.56" y1="338.60" x2="322.56" y2="507.77" stroke="#ffc3cc" stroke-width="0.75" stroke-opacity="1.0"/>
<rect x="217.96" y="347.12" width="52.46" height="155.14" fill="#f6f9ee" fill-opacity="1"/>
<line x1="218.65" y1="346.29" x2="218.65" y2="502.65" stroke="#c6db9c" stroke-width="0.8" stroke-opacity="1.0"/>
<line x1="220.23" y1="346.96" x2="220.23" y2="502.27" stroke="#c6db9c" stroke-width="0.8" stroke-opacity="1.0"/>
<line x1="221.68" y1="346.39" x2="221.68" y2="502.34" stroke="#c6db9c" stroke-width="0.8" stroke-opacity="1.0"/>
<line x1="223.45" y1="346.45" x2="223.45" y2="502.56" stroke="#c6db9c" stroke-width="0.8" stroke-opacity="1.0"/>
<line x1="225.41" y1="346.25" x2="225.41" y2="502.34" stroke="#c6db9c" stroke-width="0.8" stroke-opacity="1.0"/>
<line x1="227.06" y1="348.40" x2="227.06" y2="502.40" stroke="#c6db9c" stroke-width="0.8" stroke-opacity="1.0"/>
<line x1="228.95" y1="347.21" x2="228.95" y2="502.67" stroke="#c6db9c" stroke-width="0.8" stroke-opacity="1.0"/>
<line x1="230.71" y1="347.86" x2="230.71" y2="502.69" stroke="#c6db9c" stroke-width="0.8" stroke-opacity="1.0"/>
<line x1="232.56" y1="348.70" x2="232.56" y2="502.55" stroke="#c6db9c" stroke-width="0.8" stroke-opacity="1.0"/>
<line x1="234.48" y1="348.27" x2="234.48" y2="502.46" stroke="#c6db9c" stroke-width="0.8" stroke-opacity="1.0"/>
<line x1="235.89" y1="346.82" x2="235.89" y2="502.33" stroke="#c6db9c" stroke-width="0.8" stroke-opacity="1.0"/>
<line x1="237.93" y1="346.61" x2="237.93" y2="501.91" stroke="#c6db9c" stroke-width="0.8" stroke-opacity="1.0"/>
<line x1="239.55" y1="346.51" x2="239.55" y2="501.86" stroke="#c6db9c" stroke-width="0.8" stroke-opacity="1.0"/>
<line x1="241.26" y1="347.36" x2="241.26" y2="502.11" stroke="#c6db9c" stroke-width="0.8" stroke-opacity="1.0"/>
<line x1="243.01" y1="346.55" x2="243.01" y2="502.22" stroke="#c6db9c" stroke-width="0.8" stroke-opacity="1.0"/>
<line x1="245.03" y1="348.51" x2="245.03" y2="502.24" stroke="#c6db9c" stroke-width="0.8" stroke-opacity="1.0"/>
<line x1="246.51" y1="347.48" x2="246.51" y2="502.54" stroke="#c6db9c" stroke-width="0.8" stroke-opacity="1.0"/>
<line x1="248.15" y1="348.64" x2="248.15" y2="502.54" stroke="#c6db9c" stroke-width="0.8" stroke-opacity="1.0"/>
<line x1="250.24" y1="347.04" x2="250.24" y2="501.98" stroke="#c6db9c" stroke-width="0.8" stroke-opacity="1.0"/>
<line x1="251.83" y1="347.14" x2="251.83" y2="502.32" stroke="#c6db9c" stroke-width="0.8" stroke-opacity="1.0"/>
<line x1="253.43" y1="348.81" x2="253.43" y2="502.70" stroke="#c6db9c" stroke-width="0.8" stroke-opacity="1.0"/>
<line x1="255.61" y1="347.15" x2="255.61" y2="502.23" stroke="#c6db9c" stroke-width="0.8" stroke-opacity="1.0"/>
<line x1="256.86" y1="347.67" x2="256.86" y2="502.55" stroke="#c6db9c" stroke-width="0.8" stroke-opacity="1.0"/>
<line x1="258.92" y1="348.56" x2="258.92" y2="502.54" stroke="#c6db9c" stroke-width="0.8" stroke-opacity="1.0"/>
<line x1="260.90" y1="348.55" x2="260.90" y2="502.17" stroke="#c6db9c" stroke-width="0.8" stroke-opacity="1.0"/>
<line x1="262.55" y1="348.07" x2="262.55" y2="502.21" stroke="#c6db9c" stroke-width="0.8" stroke-opacity="1.0"/>
<line x1="264.10" y1="347.75" x2="264.10" y2="502.22" stroke="#c6db9c" stroke-width="0.8" stroke-opacity="1.0"/>
<line x1="266.23" y1="346.91" x2="266.23" y2="502.01" stroke="#c6db9c" stroke-width="0.8" stroke-opacity="1.0"/>
<line x1="267.83" y1="348.49" x2="267.83" y2="501.85" stroke="#c6db9c" stroke-width="0.8" stroke-opacity="1.0"/>
<line x1="269.32" y1="346.62" x2="269.32" y2="501.98" stroke="#c6db9c" stroke-width="0.8" stroke-opacity="1.0"/>
<line x1="166.78" y1="358.71" x2="166.78" y2="491.31" stroke="#d3b9f8" stroke-width="1.0" stroke-opacity="1.0"/>
<line x1="169.42" y1="358.94" x2="169.42" y2="491.47" stroke="#d3b9f8" stroke-width="1.0" stroke-opacity="1.0"/>
<line x1="172.06" y1="358.26" x2="172.06" y2="491.63" stroke="#d3b9f8" stroke-width="1.0" stroke-opacity="1.0"/>
<line x1="174.71" y1="358.54" x2="174.71" y2="491.45" stroke="#d3b9f8" stroke-width="1.0" stroke-opacity="1.0"/>
<line x1="177.35" y1="358.37" x2="177.35" y2="492.06" stroke="#d3b9f8" stroke-width="1.0" stroke-opacity="1.0"/>
<line x1="180.00" y1="359.34" x2="180.00" y2="491.21" stroke="#d3b9f8" stroke-width="1.0" stroke-opacity="1.0"/>
<line x1="182.64" y1="358.53" x2="182.64" y2="491.86" stroke="#d3b9f8" stroke-width="1.0" stroke-opacity="1.0"/>
<line x1="185.28" y1="358.53" x2="185.28" y2="491.94" stroke="#d3b9f8" stroke-width="1.0" stroke-opacity="1.0"/>
<line x1="187.93" y1="359.07" x2="187.93" y2="491.70" stroke="#d3b9f8" stroke-width="1.0" stroke-opacity="1.0"/>
<line x1="190.57" y1="359.26" x2="190.57" y2="491.97" stroke="#d3b9f8" stroke-width="1.0" stroke-opacity="1.0"/>
<line x1="193.22" y1="358.86" x2="193.22" y2="491.52" stroke="#d3b9f8" stroke-width="1.0" stroke-opacity="1.0"/>
<line x1="195.86" y1="359.13" x2="195.86" y2="491.51" stroke="#d3b9f8" stroke-width="1.0" stroke-opacity="1.0"/>
<line x1="198.50" y1="358.19" x2="198.50" y2="492.05" stroke="#d3b9f8" stroke-width="1.0" stroke-opacity="1.0"/>
<line x1="201.15" y1="359.19" x2="201.15" y2="492.01" stroke="#d3b9f8" stroke-width="1.0" stroke-opacity="1.0"/>
<line x1="203.79" y1="358.62" x2="203.79" y2="491.73" stroke="#d3b9f8" stroke-width="1.0" stroke-opacity="1.0"/>
<line x1="206.44" y1="358.96" x2="206.44" y2="491.88" stroke="#d3b9f8" stroke-width="1.0" stroke-opacity="1.0"/>
<line x1="209.08" y1="358.48" x2="209.08" y2="491.42" stroke="#d3b9f8" stroke-width="1.0" stroke-opacity="1.0"/>
<line x1="211.72" y1="358.95" x2="211.72" y2="491.36" stroke="#d3b9f8" stroke-width="1.0" stroke-opacity="1.0"/>
<line x1="214.37" y1="359.26" x2="214.37" y2="491.79" stroke="#d3b9f8" stroke-width="1.0" stroke-opacity="1.0"/>
<line x1="217.01" y1="358.23" x2="217.01" y2="491.89" stroke="#d3b9f8" stroke-width="1.0" stroke-opacity="1.0"/>
<line x1="114.42" y1="366.20" x2="114.42" y2="481.81" stroke="#7fd3f5" stroke-width="1.0" stroke-opacity="1.0"/>
<line x1="119.71" y1="366.52" x2="119.71" y2="481.50" stroke="#7fd3f5" stroke-width="1.0" stroke-opacity="1.0"/>
<line x1="125.00" y1="366.16" x2="125.00" y2="481.59" stroke="#7fd3f5" stroke-width="1.0" stroke-opacity="1.0"/>
<line x1="130.29" y1="366.61" x2="130.29" y2="481.42" stroke="#7fd3f5" stroke-width="1.0" stroke-opacity="1.0"/>
<line x1="135.58" y1="366.67" x2="135.58" y2="481.12" stroke="#7fd3f5" stroke-width="1.0" stroke-opacity="1.0"/>
<line x1="140.86" y1="366.23" x2="140.86" y2="481.29" stroke="#7fd3f5" stroke-width="1.0" stroke-opacity="1.0"/>
<line x1="146.15" y1="366.96" x2="146.15" y2="481.05" stroke="#7fd3f5" stroke-width="1.0" stroke-opacity="1.0"/>
<line x1="151.44" y1="366.52" x2="151.44" y2="481.40" stroke="#7fd3f5" stroke-width="1.0" stroke-opacity="1.0"/>
<line x1="156.73" y1="366.53" x2="156.73" y2="481.47" stroke="#7fd3f5" stroke-width="1.0" stroke-opacity="1.0"/>
<line x1="162.02" y1="366.19" x2="162.02" y2="481.69" stroke="#7fd3f5" stroke-width="1.0" stroke-opacity="1.0"/>
<line x1="64.66" y1="374.74" x2="64.66" y2="466.90" stroke="url(#gc1)" stroke-width="1.0" stroke-opacity="1.0"/>
<polyline points="62.66,466.90 63.06,480.98 63.66,482.48 64.66,466.90" fill="none" stroke="#8eeea0" stroke-width="1.0" stroke-opacity="1.0"/>
<line x1="75.24" y1="374.71" x2="75.24" y2="466.90" stroke="url(#gc1)" stroke-width="1.0" stroke-opacity="1.0"/>
<polyline points="73.24,466.90 73.64,481.09 74.24,482.59 75.24,466.90" fill="none" stroke="#8eeea0" stroke-width="1.0" stroke-opacity="1.0"/>
<line x1="85.82" y1="374.34" x2="85.82" y2="466.90" stroke="url(#gc1)" stroke-width="1.0" stroke-opacity="1.0"/>
<polyline points="83.82,466.90 84.22,481.09 84.82,482.59 85.82,466.90" fill="none" stroke="#8eeea0" stroke-width="1.0" stroke-opacity="1.0"/>
<line x1="96.39" y1="374.63" x2="96.39" y2="466.90" stroke="url(#gc1)" stroke-width="1.0" stroke-opacity="1.0"/>
<polyline points="94.39,466.90 94.79,481.30 95.39,482.80 96.39,466.90" fill="none" stroke="#8eeea0" stroke-width="1.0" stroke-opacity="1.0"/>
<line x1="106.97" y1="374.40" x2="106.97" y2="466.90" stroke="url(#gc1)" stroke-width="1.0" stroke-opacity="1.0"/>
<polyline points="104.97,466.90 105.37,480.97 105.97,482.47 106.97,466.90" fill="none" stroke="#8eeea0" stroke-width="1.0" stroke-opacity="1.0"/>
<polyline points="58.90,466.90 59.11,466.92 59.32,467.00 59.53,466.90 59.75,466.84 59.96,466.93 60.17,466.91 60.38,466.86 60.59,466.85 60.80,466.83 61.02,466.76 61.23,466.87 61.44,467.00 61.65,467.01 61.86,466.99 62.07,466.90 62.28,466.88 62.50,466.78 62.71,466.91 62.92,466.84 63.13,466.81 63.34,467.00 63.55,466.90 63.76,467.04 63.98,467.01 64.19,467.03 64.40,467.00 64.61,466.86 64.82,466.94 65.03,466.85 65.25,466.85 65.46,466.76 65.67,466.70 65.88,466.76 66.09,466.68 66.30,466.76 66.51,466.93 66.73,467.07 66.94,466.96 67.15,466.81 67.36,466.81 67.57,466.72 67.78,466.73 68.00,466.85 68.21,466.91 68.42,466.76 68.63,466.83 68.84,466.84 69.05,466.84 69.26,466.76 69.48,466.80 69.69,466.73 69.90,466.87 70.11,466.93 70.32,466.95 70.53,466.90 70.75,467.04 70.96,466.93 71.17,466.83 71.38,466.82 71.59,466.99 71.80,466.84 72.01,466.95 72.23,467.06 72.44,467.08 72.65,466.98 72.86,466.93 73.07,467.02 73.28,467.03 73.49,467.05 73.71,466.88 73.92,466.92 74.13,466.98 74.34,466.86 74.55,466.79 74.76,466.95 74.98,466.95 75.19,466.90 75.40,466.89 75.61,466.82 75.82,466.79 76.03,466.73 76.24,466.78 76.46,466.74 76.67,466.94 76.88,467.06 77.09,467.00 77.30,466.83 77.51,466.89 77.73,466.79 77.94,466.81 78.15,466.74 78.36,466.82 78.57,466.73 78.78,466.75 78.99,466.75 79.21,466.81 79.42,466.99 79.63,466.97 79.84,467.02 80.05,467.03 80.26,466.97 80.48,466.81 80.69,466.72 80.90,466.70 81.11,466.81 81.32,466.80 81.53,466.98 81.74,466.85 81.96,466.76 82.17,466.87 82.38,466.92 82.59,466.78 82.80,466.79 83.01,466.83 83.22,466.96 83.44,467.01 83.65,467.07 83.86,467.00 84.07,467.08 84.28,466.98 84.49,466.88 84.71,466.78 84.92,466.94 85.13,466.96 85.34,466.97 85.55,467.08 85.76,467.03 85.97,466.91 86.19,466.96 86.40,467.06 86.61,466.88 86.82,467.02 87.03,466.94 87.24,466.80 87.46,466.85 87.67,466.96 87.88,466.93 88.09,466.84 88.30,466.95 88.51,466.81 88.72,466.90 88.94,466.86 89.15,466.91 89.36,466.91 89.57,466.84 89.78,466.78 89.99,466.94 90.20,466.91 90.42,466.84 90.63,466.90 90.84,466.98 91.05,466.82 91.26,466.85 91.47,466.77 91.69,466.91 91.90,466.77 92.11,466.94 92.32,466.94 92.53,466.92 92.74,466.92 92.95,466.84 93.17,466.86 93.38,466.78 93.59,466.80 93.80,466.88 94.01,466.92 94.22,466.86 94.44,466.91 94.65,466.99 94.86,467.03 95.07,466.82 95.28,466.86 95.49,466.78 95.70,466.94 95.92,466.94 96.13,466.90 96.34,466.93 96.55,466.92 96.76,466.82 96.97,466.99 97.19,466.81 97.40,466.72 97.61,466.75 97.82,466.72 98.03,466.77 98.24,466.87 98.45,466.85 98.67,467.02 98.88,466.91 99.09,467.04 99.30,467.11 99.51,467.02 99.72,467.05 99.93,466.85 100.15,467.00 100.36,466.93 100.57,466.87 100.78,467.01 100.99,466.93 101.20,466.79 101.42,466.70 101.63,466.89 101.84,466.80 102.05,466.89 102.26,466.77 102.47,466.93 102.68,467.06 102.90,466.94 103.11,467.01 103.32,467.07 103.53,466.91 103.74,466.90 103.95,467.05 104.17,467.11 104.38,467.02 104.59,466.98 104.80,466.79 105.01,466.95 105.22,467.06 105.43,467.00 105.65,466.87 105.86,466.77 106.07,466.88 106.28,466.95 106.49,466.95 106.70,467.03 106.92,466.82 107.13,466.71 107.34,466.69 107.55,466.74 107.76,466.68 107.97,466.71 108.18,466.72 108.40,466.90 108.61,466.91 108.82,466.81 109.03,466.86 109.24,466.78 109.45,466.98 109.66,466.82 109.88,466.78 110.09,466.86 110.30,467.00 110.51,467.00 110.72,466.84 110.93,466.90 111.15,466.97 111.36,467.07 111.57,467.02 111.78,466.89 111.99,466.99 112.20,467.01" fill="none" stroke="#86ee9a" stroke-width="1.2" stroke-opacity="1.0" stroke-linejoin="round"/>
<polyline points="111.78,467.03 111.99,466.87 112.20,467.02 112.41,466.88 112.63,466.88 112.84,467.01 113.05,466.91 113.26,466.91 113.47,466.80 113.68,466.99 113.90,467.09 114.11,466.90 114.32,466.79 114.53,466.83 114.74,466.87 114.95,466.97 115.16,466.89 115.38,466.92 115.59,466.81 115.80,466.77 116.01,466.71 116.22,466.82 116.43,466.88 116.64,466.92 116.86,467.04 117.07,466.91 117.28,466.86 117.49,466.87 117.70,467.02 117.91,466.90 118.13,466.84 118.34,466.85 118.55,466.93 118.76,466.85 118.97,466.78 119.18,466.91 119.39,466.93 119.61,466.94 119.82,466.77 120.03,466.76 120.24,466.71 120.45,466.77 120.66,466.95 120.88,467.07 121.09,467.09 121.30,466.96 121.51,466.95 121.72,467.04 121.93,466.92 122.14,466.88 122.36,466.96 122.57,466.88 122.78,466.88 122.99,466.85 123.20,466.97 123.41,466.94 123.63,466.80 123.84,466.70 124.05,466.85 124.26,466.76 124.47,466.88 124.68,466.81 124.89,466.86 125.11,466.83 125.32,466.91 125.53,466.80 125.74,466.82 125.95,466.91 126.16,466.83 126.37,467.01 126.59,467.10 126.80,467.14 127.01,467.15 127.22,467.16 127.43,467.05 127.64,467.08 127.86,466.96 128.07,466.80 128.28,466.98 128.49,467.06 128.70,466.91 128.91,466.87 129.12,466.80 129.34,466.92 129.55,466.81 129.76,466.95 129.97,466.79 130.18,466.81 130.39,466.94 130.61,466.92 130.82,466.80 131.03,466.71 131.24,466.86 131.45,466.75 131.66,466.76 131.87,466.86 132.09,466.82 132.30,466.72 132.51,466.90 132.72,466.97 132.93,466.97 133.14,466.81 133.36,466.85 133.57,467.02 133.78,466.96 133.99,466.86 134.20,467.01 134.41,466.91 134.62,466.91 134.84,466.80 135.05,466.96 135.26,466.99 135.47,466.95 135.68,466.92 135.89,466.86 136.10,466.87 136.32,466.89 136.53,466.75 136.74,466.89 136.95,466.97 137.16,466.79 137.37,466.74 137.59,466.88 137.80,466.85 138.01,466.76 138.22,466.89 138.43,467.04 138.64,466.93 138.85,466.94 139.07,466.94 139.28,466.93 139.49,466.95 139.70,467.05 139.91,467.08 140.12,467.11 140.34,467.06 140.55,467.06 140.76,467.06 140.97,467.05 141.18,467.03 141.39,467.04 141.60,466.84 141.82,466.77 142.03,466.88 142.24,466.87 142.45,466.80 142.66,466.90 142.87,466.81 143.08,466.93 143.30,466.86 143.51,467.01 143.72,466.90 143.93,467.04 144.14,466.92 144.35,466.99 144.57,466.84 144.78,466.87 144.99,466.84 145.20,466.98 145.41,467.00 145.62,466.97 145.83,466.82 146.05,466.87 146.26,466.81 146.47,466.73 146.68,466.88 146.89,466.90 147.10,467.05 147.32,467.08 147.53,466.85 147.74,467.01 147.95,466.96 148.16,467.08 148.37,466.93 148.58,466.91 148.80,466.96 149.01,466.86 149.22,466.85 149.43,466.83 149.64,466.82 149.85,466.87 150.07,466.89 150.28,467.01 150.49,466.88 150.70,466.81 150.91,466.79 151.12,466.70 151.33,466.75 151.55,466.78 151.76,466.72 151.97,466.81 152.18,466.73 152.39,466.90 152.60,467.04 152.81,467.00 153.03,466.86 153.24,466.78 153.45,466.71 153.66,466.71 153.87,466.91 154.08,466.98 154.30,467.05 154.51,466.94 154.72,466.93 154.93,466.98 155.14,466.99 155.35,466.99 155.56,466.80 155.78,467.00 155.99,466.97 156.20,466.87 156.41,466.83 156.62,466.95 156.83,467.05 157.05,466.84 157.26,466.78 157.47,466.71 157.68,466.85 157.89,466.90 158.10,466.94 158.31,466.83 158.53,466.84 158.74,466.98 158.95,466.89 159.16,466.80 159.37,466.77 159.58,466.92 159.80,466.83 160.01,466.93 160.22,466.95 160.43,467.02 160.64,466.83 160.85,466.80 161.06,466.99 161.28,466.94 161.49,466.80 161.70,466.73 161.91,466.72 162.12,466.86 162.33,466.83 162.54,466.74 162.76,466.75 162.97,466.91 163.18,466.97 163.39,466.93 163.60,466.85 163.81,466.75 164.03,466.71 164.24,466.92 164.45,466.94 164.66,466.78" fill="none" stroke="#a6def8" stroke-width="1.1" stroke-opacity="1.0" stroke-linejoin="round"/>
<polyline points="164.66,466.88 164.87,466.83 165.08,466.99 165.29,466.94 165.51,466.80 165.72,466.92 165.93,466.78 166.14,466.75 166.35,466.70 166.56,466.84 166.78,466.97 166.99,466.97 167.20,466.85 167.41,466.98 167.62,467.05 167.83,466.92 168.04,466.84 168.26,466.92 168.47,467.05 168.68,467.10 168.89,467.11 169.10,467.07 169.31,466.90 169.52,466.94 169.74,466.90 169.95,466.94 170.16,466.92 170.37,466.82 170.58,466.98 170.79,466.80 171.01,466.80 171.22,466.80 171.43,466.99 171.64,466.83 171.85,466.89 172.06,467.03 172.27,467.00 172.49,467.08 172.70,466.96 172.91,466.91 173.12,466.87 173.33,466.84 173.54,466.83 173.76,466.74 173.97,466.96 174.18,467.00 174.39,467.00 174.60,466.96 174.81,466.84 175.02,466.79 175.24,466.98 175.45,467.04 175.66,466.96 175.87,467.00 176.08,467.09 176.29,466.86 176.51,466.84 176.72,466.84 176.93,466.82 177.14,466.87 177.35,466.82 177.56,466.75 177.77,466.94 177.99,466.89 178.20,466.99 178.41,466.83 178.62,466.81 178.83,466.85 179.04,466.74 179.25,466.79 179.47,466.75 179.68,466.79 179.89,466.78 180.10,466.93 180.31,466.92 180.52,466.83 180.74,466.89 180.95,466.89 181.16,466.81 181.37,466.94 181.58,466.94 181.79,466.78 182.00,466.85 182.22,466.84 182.43,466.75 182.64,466.97 182.85,466.97 183.06,467.08 183.27,466.98 183.49,466.92 183.70,466.81 183.91,466.90 184.12,466.90 184.33,466.80 184.54,466.95 184.75,466.95 184.97,466.80 185.18,467.00 185.39,466.92 185.60,467.04 185.81,466.94 186.02,466.79 186.24,466.86 186.45,466.85 186.66,466.96 186.87,466.93 187.08,466.88 187.29,466.86 187.50,466.88 187.72,466.96 187.93,467.02 188.14,466.93 188.35,466.81 188.56,466.71 188.77,466.83 188.98,466.79 189.20,466.95 189.41,466.90 189.62,467.04 189.83,466.84 190.04,466.97 190.25,466.82 190.47,466.78 190.68,466.81 190.89,466.79 191.10,466.83 191.31,466.87 191.52,466.92 191.73,466.77 191.95,466.87 192.16,466.85 192.37,466.91 192.58,466.85 192.79,466.97 193.00,466.85 193.22,466.75 193.43,466.89 193.64,466.94 193.85,466.82 194.06,466.81 194.27,466.83 194.48,466.78 194.70,466.86 194.91,466.85 195.12,466.90 195.33,466.98 195.54,466.85 195.75,466.80 195.96,466.90 196.18,466.93 196.39,466.98 196.60,466.87 196.81,466.80 197.02,466.71 197.23,466.75 197.45,466.75 197.66,466.90 197.87,466.85 198.08,466.96 198.29,466.82 198.50,466.79 198.71,466.83 198.93,466.78 199.14,466.83 199.35,467.01 199.56,466.94 199.77,466.83 199.98,466.89 200.20,466.90 200.41,467.00 200.62,466.82 200.83,466.93 201.04,466.95 201.25,466.86 201.46,466.84 201.68,466.75 201.89,466.95 202.10,466.87 202.31,466.86 202.52,466.92 202.73,466.98 202.95,466.97 203.16,466.91 203.37,466.95 203.58,466.93 203.79,466.86 204.00,466.98 204.21,466.83 204.43,466.77 204.64,466.82 204.85,466.86 205.06,466.76 205.27,466.90 205.48,467.04 205.69,466.99 205.91,466.97 206.12,466.87 206.33,466.77 206.54,466.79 206.75,466.91 206.96,467.01 207.18,466.92 207.39,466.86 207.60,466.83 207.81,466.88 208.02,466.82 208.23,466.86 208.44,466.98 208.66,466.84 208.87,466.92 209.08,466.85 209.29,466.78 209.50,466.82 209.71,466.90 209.93,466.87 210.14,466.86 210.35,466.92 210.56,466.91 210.77,467.00 210.98,467.09 211.19,467.12 211.41,467.06 211.62,466.88 211.83,466.87 212.04,466.82 212.25,466.87 212.46,466.77 212.68,466.96 212.89,466.86 213.10,466.81 213.31,466.97 213.52,466.91 213.73,466.77 213.94,466.72 214.16,466.85 214.37,466.73 214.58,466.88 214.79,466.77 215.00,466.71 215.21,466.81 215.42,466.76 215.64,466.68 215.85,466.81 216.06,466.75 216.27,466.80 216.48,466.99 216.69,467.05 216.91,467.09 217.12,466.99 217.33,466.98 217.54,466.92" fill="none" stroke="#c8a6f8" stroke-width="1.4" stroke-opacity="1.0" stroke-linejoin="round"/>
<polyline points="217.54,466.89 217.75,466.95 217.96,466.89 218.17,467.06 218.39,466.79 218.60,467.04 218.81,467.05 219.02,467.10 219.23,467.12 219.44,466.89 219.66,467.02 219.87,467.02 220.08,466.82 220.29,467.00 220.50,466.93 220.71,467.00 220.92,466.78 221.14,466.91 221.35,466.71 221.56,466.63 221.77,466.61 221.98,466.57 222.19,466.77 222.40,466.72 222.62,466.69 222.83,466.92 223.04,467.02 223.25,466.92 223.46,466.79 223.67,466.94 223.89,466.94 224.10,466.86 224.31,466.81 224.52,466.80 224.73,466.84 224.94,466.74 225.15,466.62 225.37,466.75 225.58,466.71 225.79,466.63 226.00,466.68 226.21,466.86 226.42,467.01 226.64,466.77 226.85,466.96 227.06,466.85 227.27,467.02 227.48,467.11 227.69,466.93 227.90,466.97 228.12,466.96 228.33,466.83 228.54,467.05 228.75,467.04 228.96,467.15 229.17,466.88 229.39,466.79 229.60,467.02 229.81,466.88 230.02,466.84 230.23,466.78 230.44,466.97 230.65,466.85 230.87,466.73 231.08,466.66 231.29,466.95 231.50,466.75 231.71,466.69 231.92,466.73 232.13,466.84 232.35,467.00 232.56,467.14 232.77,467.01 232.98,467.02 233.19,466.89 233.40,466.90 233.62,466.72 233.83,466.91 234.04,466.92 234.25,466.98 234.46,467.08 234.67,467.12 234.88,467.20 235.10,467.14 235.31,466.86 235.52,466.81 235.73,466.91 235.94,466.75 236.15,466.78 236.37,466.80 236.58,466.70 236.79,466.77 237.00,466.91 237.21,467.07 237.42,467.05 237.63,467.02 237.85,466.83 238.06,467.06 238.27,467.09 238.48,467.07 238.69,466.98 238.90,466.96 239.12,466.76 239.33,466.75 239.54,466.64 239.75,466.96 239.96,466.88 240.17,466.95 240.38,467.03 240.60,466.95 240.81,467.12 241.02,467.20 241.23,467.05 241.44,466.79 241.65,466.96 241.86,466.93 242.08,466.73 242.29,466.90 242.50,466.94 242.71,467.11 242.92,467.05 243.13,466.94 243.35,466.76 243.56,466.70 243.77,466.89 243.98,467.03 244.19,466.91 244.40,466.93 244.61,466.80 244.83,466.65 245.04,466.66 245.25,466.64 245.46,466.90 245.67,466.73 245.88,466.70 246.10,466.77 246.31,467.00 246.52,466.86 246.73,466.81 246.94,466.96 247.15,466.92 247.36,467.07 247.58,466.99 247.79,466.86 248.00,467.04 248.21,467.01 248.42,466.94 248.63,467.05 248.84,466.91 249.06,466.79 249.27,466.73 249.48,466.72 249.69,466.93 249.90,467.04 250.11,466.84 250.33,466.68 250.54,466.67 250.75,466.59 250.96,466.78 251.17,466.77 251.38,466.89 251.59,466.76 251.81,466.89 252.02,467.00 252.23,466.86 252.44,467.07 252.65,466.90 252.86,467.10 253.08,467.19 253.29,467.21 253.50,467.02 253.71,467.09 253.92,467.16 254.13,466.98 254.34,467.04 254.56,466.91 254.77,466.81 254.98,467.01 255.19,467.04 255.40,467.07 255.61,466.82 255.83,466.82 256.04,466.68 256.25,466.79 256.46,466.87 256.67,466.84 256.88,466.86 257.09,466.86 257.31,466.69 257.52,466.75 257.73,466.92 257.94,466.92 258.15,466.71 258.36,466.69 258.57,466.68 258.79,466.60 259.00,466.70 259.21,466.70 259.42,466.77 259.63,466.93 259.84,467.11 260.06,467.02 260.27,466.82 260.48,467.02 260.69,467.13 260.90,467.13 261.11,466.91 261.32,466.91 261.54,466.80 261.75,466.92 261.96,467.07 262.17,467.07 262.38,466.99 262.59,467.03 262.81,466.83 263.02,466.84 263.23,466.69 263.44,466.62 263.65,466.58 263.86,466.72 264.07,466.72 264.29,466.93 264.50,466.79 264.71,466.84 264.92,466.88 265.13,466.82 265.34,466.79 265.56,466.79 265.77,466.89 265.98,467.05 266.19,466.96 266.40,467.12 266.61,466.86 266.82,466.98 267.04,466.98 267.25,467.03 267.46,466.80 267.67,466.69 267.88,466.60 268.09,466.62 268.30,466.79 268.52,467.03 268.73,466.96 268.94,467.04 269.15,466.78 269.36,466.65 269.57,466.72 269.79,466.91 270.00,466.75 270.21,466.90 270.42,467.09" fill="none" stroke="#9cc46a" stroke-width="1.6" stroke-opacity="1.0" stroke-linejoin="round"/>
<polyline points="270.95,466.87 271.16,466.80 271.37,466.99 271.58,466.92 271.79,466.92 272.01,466.93 272.22,466.85 272.43,466.93 272.64,467.08 272.85,466.82 273.06,466.88 273.28,466.80 273.49,466.91 273.70,466.95 273.91,466.75 274.12,466.67 274.33,466.80 274.54,466.99 274.76,467.06 274.97,467.11 275.18,466.86 275.39,466.82 275.60,466.89 275.81,466.84 276.03,466.76 276.24,467.00 276.45,467.00 276.66,466.91 276.87,466.90 277.08,466.98 277.29,467.04 277.51,467.08 277.72,466.93 277.93,467.10 278.14,467.11 278.35,466.91 278.56,466.77 278.78,466.81 278.99,466.76 279.20,466.98 279.41,466.74 279.62,466.95 279.83,466.79 280.04,466.97 280.26,466.91 280.47,466.76 280.68,467.02 280.89,466.93 281.10,467.11 281.31,466.93 281.52,466.81 281.74,466.88 281.95,466.77 282.16,466.86 282.37,466.96 282.58,466.99 282.79,466.75 283.01,466.89 283.22,466.80 283.43,466.83 283.64,467.01 283.85,467.10 284.06,466.85 284.27,466.71 284.49,466.91 284.70,466.88 284.91,466.97 285.12,466.99 285.33,467.14 285.54,467.17 285.76,467.23 285.97,467.23 286.18,467.09 286.39,466.96 286.60,466.79 286.81,466.98 287.02,466.94 287.24,466.91 287.45,466.82 287.66,466.79 287.87,466.85 288.08,466.93 288.29,466.84 288.50,466.73 288.72,466.85 288.93,467.05 289.14,467.00 289.35,467.14 289.56,466.89 289.77,467.02 289.99,466.97 290.20,466.75 290.41,466.69 290.62,466.89 290.83,467.02 291.04,466.81 291.25,466.93 291.47,467.07 291.68,466.88 291.89,467.02 292.10,466.82 292.31,466.72 292.52,466.93 292.74,467.07 292.95,467.06 293.16,466.98 293.37,467.00 293.58,466.98 293.79,466.98 294.00,467.11 294.22,467.00 294.43,466.86 294.64,466.77 294.85,466.84 295.06,466.98 295.27,466.89 295.49,466.80 295.70,466.72 295.91,466.90 296.12,466.70 296.33,466.74 296.54,466.69 296.75,466.88 296.97,466.99 297.18,467.02 297.39,466.80 297.60,466.76 297.81,466.74 298.02,466.98 298.23,467.12 298.45,467.12 298.66,467.04 298.87,466.94 299.08,466.95 299.29,466.95 299.50,466.87 299.72,466.77 299.93,466.66 300.14,466.68 300.35,466.66 300.56,466.87 300.77,467.01 300.98,466.82 301.20,467.01 301.41,467.06 301.62,466.93 301.83,467.01 302.04,466.95 302.25,466.99 302.47,467.04 302.68,467.14 302.89,467.05 303.10,466.86 303.31,466.94 303.52,466.98 303.73,466.94 303.95,466.87 304.16,467.08 304.37,467.17 304.58,467.14 304.79,467.02 305.00,467.02 305.22,466.83 305.43,466.69 305.64,466.69 305.85,466.84 306.06,467.06 306.27,467.08 306.48,467.05 306.70,466.81 306.91,466.99 307.12,466.76 307.33,466.71 307.54,466.83 307.75,466.98 307.96,466.76 308.18,466.94 308.39,466.98 308.60,467.00 308.81,466.98 309.02,467.13 309.23,467.15 309.45,466.84 309.66,467.03 309.87,467.03 310.08,467.16 310.29,467.21 310.50,467.02 310.71,466.82 310.93,467.05 311.14,466.78 311.35,466.70 311.56,466.69 311.77,466.92 311.98,466.77 312.20,466.88 312.41,466.78 312.62,466.89 312.83,466.86 313.04,467.01 313.25,467.00 313.46,467.14 313.68,466.86 313.89,466.72 314.10,466.85 314.31,467.00 314.52,467.13 314.73,466.86 314.94,467.07 315.16,466.96 315.37,467.10 315.58,466.81 315.79,466.81 316.00,466.88 316.21,466.99 316.43,467.07 316.64,466.83 316.85,466.89 317.06,466.74 317.27,466.90 317.48,466.73 317.69,466.98 317.91,466.91 318.12,466.93 318.33,466.97 318.54,466.77 318.75,467.00 318.96,466.97 319.18,466.93 319.39,467.01 319.60,466.93 319.81,467.09 320.02,466.81 320.23,466.68 320.44,466.84 320.66,466.96 320.87,467.02 321.08,466.79 321.29,466.72 321.50,466.71 321.71,466.95 321.93,466.97 322.14,466.85 322.35,466.78 322.56,466.91 322.77,466.84 322.98,466.78 323.19,466.92" fill="none" stroke="#fcb6c1" stroke-width="3.0" stroke-opacity="1.0" stroke-linejoin="round"/>
<rect x="624.66" y="341.27" width="52.44" height="170.05" fill="#fff4f5" fill-opacity="1"/>
<line x1="624.79" y1="340.51" x2="624.79" y2="511.60" stroke="#ffc3cc" stroke-width="0.75" stroke-opacity="1.0"/>
<line x1="626.45" y1="340.79" x2="626.45" y2="511.12" stroke="#ffc3cc" stroke-width="0.75" stroke-opacity="1.0"/>
<line x1="627.77" y1="340.25" x2="627.77" y2="512.11" stroke="#ffc3cc" stroke-width="0.75" stroke-opacity="1.0"/>
<line x1="628.71" y1="341.36" x2="628.71" y2="510.54" stroke="#ffc3cc" stroke-width="0.75" stroke-opacity="1.0"/>
<line x1="630.34" y1="340.75" x2="630.34" y2="510.80" stroke="#ffc3cc" stroke-width="0.75" stroke-opacity="1.0"/>
<line x1="631.36" y1="340.34" x2="631.36" y2="510.52" stroke="#ffc3cc" stroke-width="0.75" stroke-opacity="1.0"/>
<line x1="632.71" y1="340.33" x2="632.71" y2="511.70" stroke="#ffc3cc" stroke-width="0.75" stroke-opacity="1.0"/>
<line x1="634.16" y1="341.29" x2="634.16" y2="511.80" stroke="#ffc3cc" stroke-width="0.75" stroke-opacity="1.0"/>
<line x1="635.57" y1="340.23" x2="635.57" y2="512.03" stroke="#ffc3cc" stroke-width="0.75" stroke-opacity="1.0"/>
<line x1="636.92" y1="341.10" x2="636.92" y2="511.81" stroke="#ffc3cc" stroke-width="0.75" stroke-opacity="1.0"/>
<line x1="638.37" y1="341.29" x2="638.37" y2="512.08" stroke="#ffc3cc" stroke-width="0.75" stroke-opacity="1.0"/>
<line x1="639.40" y1="341.34" x2="639.40" y2="511.01" stroke="#ffc3cc" stroke-width="0.75" stroke-opacity="1.0"/>
<line x1="640.71" y1="337.80" x2="640.71" y2="511.53" stroke="#ffc3cc" stroke-width="0.75" stroke-opacity="1.0"/>
<line x1="642.22" y1="337.89" x2="642.22" y2="510.81" stroke="#ffc3cc" stroke-width="0.75" stroke-opacity="1.0"/>
<line x1="643.25" y1="337.69" x2="643.25" y2="510.90" stroke="#ffc3cc" stroke-width="0.75" stroke-opacity="1.0"/>
<line x1="644.71" y1="337.95" x2="644.71" y2="511.56" stroke="#ffc3cc" stroke-width="0.75" stroke-opacity="1.0"/>
<line x1="646.27" y1="338.07" x2="646.27" y2="511.85" stroke="#ffc3cc" stroke-width="0.75" stroke-opacity="1.0"/>
<line x1="647.50" y1="338.33" x2="647.50" y2="511.56" stroke="#ffc3cc" stroke-width="0.75" stroke-opacity="1.0"/>
<line x1="648.77" y1="339.08" x2="648.77" y2="512.07" stroke="#ffc3cc" stroke-width="0.75" stroke-opacity="1.0"/>
<line x1="650.31" y1="339.77" x2="650.31" y2="511.08" stroke="#ffc3cc" stroke-width="0.75" stroke-opacity="1.0"/>
<line x1="651.33" y1="339.83" x2="651.33" y2="511.82" stroke="#ffc3cc" stroke-width="0.75" stroke-opacity="1.0"/>
<line x1="652.62" y1="339.19" x2="652.62" y2="511.88" stroke="#ffc3cc" stroke-width="0.75" stroke-opacity="1.0"/>
<line x1="653.85" y1="338.72" x2="653.85" y2="510.69" stroke="#ffc3cc" stroke-width="0.75" stroke-opacity="1.0"/>
<line x1="655.23" y1="339.50" x2="655.23" y2="511.42" stroke="#ffc3cc" stroke-width="0.75" stroke-opacity="1.0"/>
<line x1="656.55" y1="339.16" x2="656.55" y2="510.60" stroke="#ffc3cc" stroke-width="0.75" stroke-opacity="1.0"/>
<line x1="658.20" y1="338.81" x2="658.20" y2="510.55" stroke="#ffc3cc" stroke-width="0.75" stroke-opacity="1.0"/>
<line x1="659.54" y1="338.90" x2="659.54" y2="511.05" stroke="#ffc3cc" stroke-width="0.75" stroke-opacity="1.0"/>
<line x1="660.46" y1="336.45" x2="660.46" y2="511.72" stroke="#ffc3cc" stroke-width="0.75" stroke-opacity="1.0"/>
<line x1="661.75" y1="336.45" x2="661.75" y2="511.88" stroke="#ffc3cc" stroke-width="0.75" stroke-opacity="1.0"/>
<line x1="663.54" y1="346.90" x2="663.54" y2="511.73" stroke="#ffc3cc" stroke-width="0.75" stroke-opacity="1.0"/>
<line x1="664.60" y1="338.86" x2="664.60" y2="510.94" stroke="#ffc3cc" stroke-width="0.75" stroke-opacity="1.0"/>
<line x1="665.86" y1="346.90" x2="665.86" y2="511.30" stroke="#ffc3cc" stroke-width="0.75" stroke-opacity="1.0"/>
<line x1="667.20" y1="338.86" x2="667.20" y2="511.64" stroke="#ffc3cc" stroke-width="0.75" stroke-opacity="1.0"/>
<line x1="668.60" y1="346.90" x2="668.60" y2="512.09" stroke="#ffc3cc" stroke-width="0.75" stroke-opacity="1.0"/>
<line x1="669.92" y1="338.57" x2="669.92" y2="511.56" stroke="#ffc3cc" stroke-width="0.75" stroke-opacity="1.0"/>
<line x1="671.46" y1="338.98" x2="671.46" y2="511.49" stroke="#ffc3cc" stroke-width="0.75" stroke-opacity="1.0"/>
<line x1="672.36" y1="338.68" x2="672.36" y2="512.01" stroke="#ffc3cc" stroke-width="0.75" stroke-opacity="1.0"/>
<line x1="674.03" y1="338.90" x2="674.03" y2="511.72" stroke="#ffc3cc" stroke-width="0.75" stroke-opacity="1.0"/>
<line x1="675.21" y1="338.21" x2="675.21" y2="511.65" stroke="#ffc3cc" stroke-width="0.75" stroke-opacity="1.0"/>
<line x1="676.43" y1="339.06" x2="676.43" y2="511.45" stroke="#ffc3cc" stroke-width="0.75" stroke-opacity="1.0"/>
<rect x="571.80" y="345.69" width="52.44" height="157.58" fill="#f6f9ee" fill-opacity="1"/>
<line x1="572.41" y1="346.24" x2="572.41" y2="503.20" stroke="#c6db9c" stroke-width="0.8" stroke-opacity="1.0"/>
<line x1="573.98" y1="345.06" x2="573.98" y2="503.40" stroke="#c6db9c" stroke-width="0.8" stroke-opacity="1.0"/>
<line x1="575.68" y1="345.64" x2="575.68" y2="503.38" stroke="#c6db9c" stroke-width="0.8" stroke-opacity="1.0"/>
<line x1="577.57" y1="345.39" x2="577.57" y2="503.13" stroke="#c6db9c" stroke-width="0.8" stroke-opacity="1.0"/>
<line x1="579.22" y1="345.57" x2="579.22" y2="502.90" stroke="#c6db9c" stroke-width="0.8" stroke-opacity="1.0"/>
<line x1="580.86" y1="345.43" x2="580.86" y2="503.40" stroke="#c6db9c" stroke-width="0.8" stroke-opacity="1.0"/>
<line x1="582.55" y1="345.85" x2="582.55" y2="503.17" stroke="#c6db9c" stroke-width="0.8" stroke-opacity="1.0"/>
<line x1="584.36" y1="345.45" x2="584.36" y2="503.50" stroke="#c6db9c" stroke-width="0.8" stroke-opacity="1.0"/>
<line x1="586.06" y1="345.30" x2="586.06" y2="503.32" stroke="#c6db9c" stroke-width="0.8" stroke-opacity="1.0"/>
<line x1="588.04" y1="345.34" x2="588.04" y2="503.61" stroke="#c6db9c" stroke-width="0.8" stroke-opacity="1.0"/>
<line x1="589.91" y1="345.93" x2="589.91" y2="503.67" stroke="#c6db9c" stroke-width="0.8" stroke-opacity="1.0"/>
<line x1="591.68" y1="345.80" x2="591.68" y2="503.48" stroke="#c6db9c" stroke-width="0.8" stroke-opacity="1.0"/>
<line x1="593.44" y1="345.89" x2="593.44" y2="503.50" stroke="#c6db9c" stroke-width="0.8" stroke-opacity="1.0"/>
<line x1="595.34" y1="345.24" x2="595.34" y2="503.17" stroke="#c6db9c" stroke-width="0.8" stroke-opacity="1.0"/>
<line x1="596.68" y1="345.89" x2="596.68" y2="503.28" stroke="#c6db9c" stroke-width="0.8" stroke-opacity="1.0"/>
<line x1="598.51" y1="346.10" x2="598.51" y2="502.92" stroke="#c6db9c" stroke-width="0.8" stroke-opacity="1.0"/>
<line x1="600.38" y1="345.17" x2="600.38" y2="503.22" stroke="#c6db9c" stroke-width="0.8" stroke-opacity="1.0"/>
<line x1="602.47" y1="346.14" x2="602.47" y2="502.91" stroke="#c6db9c" stroke-width="0.8" stroke-opacity="1.0"/>
<line x1="603.92" y1="346.06" x2="603.92" y2="503.64" stroke="#c6db9c" stroke-width="0.8" stroke-opacity="1.0"/>
<line x1="605.63" y1="345.80" x2="605.63" y2="503.38" stroke="#c6db9c" stroke-width="0.8" stroke-opacity="1.0"/>
<line x1="607.56" y1="345.24" x2="607.56" y2="503.56" stroke="#c6db9c" stroke-width="0.8" stroke-opacity="1.0"/>
<line x1="609.47" y1="346.26" x2="609.47" y2="503.33" stroke="#c6db9c" stroke-width="0.8" stroke-opacity="1.0"/>
<line x1="610.95" y1="346.28" x2="610.95" y2="503.15" stroke="#c6db9c" stroke-width="0.8" stroke-opacity="1.0"/>
<line x1="613.03" y1="345.71" x2="613.03" y2="502.98" stroke="#c6db9c" stroke-width="0.8" stroke-opacity="1.0"/>
<line x1="614.51" y1="345.13" x2="614.51" y2="503.49" stroke="#c6db9c" stroke-width="0.8" stroke-opacity="1.0"/>
<line x1="616.38" y1="345.32" x2="616.38" y2="503.28" stroke="#c6db9c" stroke-width="0.8" stroke-opacity="1.0"/>
<line x1="617.89" y1="345.11" x2="617.89" y2="503.62" stroke="#c6db9c" stroke-width="0.8" stroke-opacity="1.0"/>
<line x1="620.04" y1="345.75" x2="620.04" y2="502.89" stroke="#c6db9c" stroke-width="0.8" stroke-opacity="1.0"/>
<line x1="621.31" y1="346.27" x2="621.31" y2="503.44" stroke="#c6db9c" stroke-width="0.8" stroke-opacity="1.0"/>
<line x1="623.40" y1="345.94" x2="623.40" y2="503.39" stroke="#c6db9c" stroke-width="0.8" stroke-opacity="1.0"/>
<line x1="520.21" y1="363.42" x2="520.21" y2="495.42" stroke="#d3b9f8" stroke-width="1.0" stroke-opacity="1.0"/>
<line x1="522.85" y1="362.87" x2="522.85" y2="495.24" stroke="#d3b9f8" stroke-width="1.0" stroke-opacity="1.0"/>
<line x1="525.50" y1="362.69" x2="525.50" y2="495.19" stroke="#d3b9f8" stroke-width="1.0" stroke-opacity="1.0"/>
<line x1="528.14" y1="362.79" x2="528.14" y2="495.27" stroke="#d3b9f8" stroke-width="1.0" stroke-opacity="1.0"/>
<line x1="530.78" y1="363.13" x2="530.78" y2="495.17" stroke="#d3b9f8" stroke-width="1.0" stroke-opacity="1.0"/>
<line x1="533.43" y1="363.36" x2="533.43" y2="495.25" stroke="#d3b9f8" stroke-width="1.0" stroke-opacity="1.0"/>
<line x1="536.07" y1="362.56" x2="536.07" y2="495.22" stroke="#d3b9f8" stroke-width="1.0" stroke-opacity="1.0"/>
<line x1="538.71" y1="363.29" x2="538.71" y2="495.48" stroke="#d3b9f8" stroke-width="1.0" stroke-opacity="1.0"/>
<line x1="541.36" y1="362.80" x2="541.36" y2="495.55" stroke="#d3b9f8" stroke-width="1.0" stroke-opacity="1.0"/>
<line x1="544.00" y1="363.38" x2="544.00" y2="495.43" stroke="#d3b9f8" stroke-width="1.0" stroke-opacity="1.0"/>
<line x1="546.64" y1="363.94" x2="546.64" y2="495.01" stroke="#d3b9f8" stroke-width="1.0" stroke-opacity="1.0"/>
<line x1="549.28" y1="358.00" x2="549.28" y2="495.62" stroke="#d3b9f8" stroke-width="1.0" stroke-opacity="1.0"/>
<line x1="551.93" y1="362.39" x2="551.93" y2="495.36" stroke="#d3b9f8" stroke-width="1.0" stroke-opacity="1.0"/>
<line x1="554.57" y1="363.21" x2="554.57" y2="495.30" stroke="#d3b9f8" stroke-width="1.0" stroke-opacity="1.0"/>
<line x1="557.21" y1="362.93" x2="557.21" y2="495.20" stroke="#d3b9f8" stroke-width="1.0" stroke-opacity="1.0"/>
<line x1="559.86" y1="363.59" x2="559.86" y2="495.29" stroke="#d3b9f8" stroke-width="1.0" stroke-opacity="1.0"/>
<line x1="562.50" y1="363.63" x2="562.50" y2="494.95" stroke="#d3b9f8" stroke-width="1.0" stroke-opacity="1.0"/>
<line x1="565.14" y1="363.00" x2="565.14" y2="494.89" stroke="#d3b9f8" stroke-width="1.0" stroke-opacity="1.0"/>
<line x1="567.79" y1="357.19" x2="567.79" y2="495.18" stroke="#d3b9f8" stroke-width="1.0" stroke-opacity="1.0"/>
<line x1="570.43" y1="363.94" x2="570.43" y2="495.48" stroke="#d3b9f8" stroke-width="1.0" stroke-opacity="1.0"/>
<line x1="469.89" y1="368.04" x2="469.89" y2="485.92" stroke="#7fd3f5" stroke-width="1.0" stroke-opacity="1.0"/>
<line x1="475.17" y1="368.91" x2="475.17" y2="486.14" stroke="#7fd3f5" stroke-width="1.0" stroke-opacity="1.0"/>
<line x1="480.46" y1="369.92" x2="480.46" y2="486.40" stroke="#7fd3f5" stroke-width="1.0" stroke-opacity="1.0"/>
<line x1="485.75" y1="369.11" x2="485.75" y2="486.40" stroke="#7fd3f5" stroke-width="1.0" stroke-opacity="1.0"/>
<line x1="491.03" y1="369.43" x2="491.03" y2="486.28" stroke="#7fd3f5" stroke-width="1.0" stroke-opacity="1.0"/>
<line x1="496.32" y1="369.39" x2="496.32" y2="485.91" stroke="#7fd3f5" stroke-width="1.0" stroke-opacity="1.0"/>
<line x1="501.60" y1="367.81" x2="501.60" y2="485.87" stroke="#7fd3f5" stroke-width="1.0" stroke-opacity="1.0"/>
<line x1="506.89" y1="366.04" x2="506.89" y2="486.25" stroke="#7fd3f5" stroke-width="1.0" stroke-opacity="1.0"/>
<line x1="512.18" y1="368.39" x2="512.18" y2="486.19" stroke="#7fd3f5" stroke-width="1.0" stroke-opacity="1.0"/>
<line x1="517.46" y1="369.07" x2="517.46" y2="486.18" stroke="#7fd3f5" stroke-width="1.0" stroke-opacity="1.0"/>
<line x1="416.18" y1="377.07" x2="416.18" y2="467.50" stroke="url(#gd1)" stroke-width="1.0" stroke-opacity="1.0"/>
<polyline points="413.98,467.50 414.38,480.80 414.98,482.30 416.18,467.50" fill="none" stroke="#a6f0b2" stroke-width="1.0" stroke-opacity="1.0"/>
<line x1="426.76" y1="377.27" x2="426.76" y2="467.50" stroke="url(#gd1)" stroke-width="1.0" stroke-opacity="1.0"/>
<polyline points="424.56,467.50 424.96,480.64 425.56,482.14 426.76,467.50" fill="none" stroke="#a6f0b2" stroke-width="1.0" stroke-opacity="1.0"/>
<line x1="437.33" y1="376.97" x2="437.33" y2="467.50" stroke="url(#gd1)" stroke-width="1.0" stroke-opacity="1.0"/>
<polyline points="435.13,467.50 435.53,480.68 436.13,482.18 437.33,467.50" fill="none" stroke="#a6f0b2" stroke-width="1.0" stroke-opacity="1.0"/>
<line x1="447.90" y1="377.06" x2="447.90" y2="467.50" stroke="url(#gd1)" stroke-width="1.0" stroke-opacity="1.0"/>
<polyline points="445.70,467.50 446.10,480.68 446.70,482.18 447.90,467.50" fill="none" stroke="#a6f0b2" stroke-width="1.0" stroke-opacity="1.0"/>
<line x1="458.47" y1="376.87" x2="458.47" y2="467.50" stroke="url(#gd1)" stroke-width="1.0" stroke-opacity="1.0"/>
<polyline points="456.27,467.50 456.67,480.67 457.27,482.17 458.47,467.50" fill="none" stroke="#a6f0b2" stroke-width="1.0" stroke-opacity="1.0"/>
<polyline points="412.80,467.50 413.01,467.49 413.22,467.51 413.43,467.47 413.65,467.59 413.86,467.44 414.07,467.46 414.28,467.56 414.49,467.56 414.70,467.65 414.91,467.51 415.13,467.46 415.34,467.42 415.55,467.35 415.76,467.30 415.97,467.40 416.18,467.39 416.39,467.47 416.61,467.62 416.82,467.71 417.03,467.69 417.24,467.54 417.45,467.49 417.66,467.61 417.87,467.48 418.09,467.59 418.30,467.47 418.51,467.47 418.72,467.50 418.93,467.64 419.14,467.64 419.35,467.67 419.57,467.54 419.78,467.47 419.99,467.60 420.20,467.57 420.41,467.60 420.62,467.43 420.83,467.33 421.05,467.40 421.26,467.39 421.47,467.37 421.68,467.53 421.89,467.64 422.10,467.49 422.31,467.37 422.53,467.34 422.74,467.33 422.95,467.48 423.16,467.45 423.37,467.62 423.58,467.42 423.79,467.47 424.01,467.37 424.22,467.54 424.43,467.49 424.64,467.41 424.85,467.48 425.06,467.60 425.27,467.41 425.49,467.37 425.70,467.56 425.91,467.50 426.12,467.38 426.33,467.57 426.54,467.67 426.76,467.56 426.97,467.44 427.18,467.33 427.39,467.49 427.60,467.57 427.81,467.61 428.02,467.61 428.24,467.51 428.45,467.44 428.66,467.49 428.87,467.58 429.08,467.53 429.29,467.52 429.50,467.48 429.72,467.59 429.93,467.68 430.14,467.52 430.35,467.65 430.56,467.67 430.77,467.56 430.98,467.45 431.20,467.53 431.41,467.53 431.62,467.54 431.83,467.67 432.04,467.73 432.25,467.68 432.46,467.59 432.68,467.45 432.89,467.35 433.10,467.52 433.31,467.44 433.52,467.52 433.73,467.45 433.94,467.39 434.16,467.50 434.37,467.40 434.58,467.32 434.79,467.56 435.00,467.50 435.21,467.46 435.42,467.57 435.64,467.45 435.85,467.56 436.06,467.45 436.27,467.54 436.48,467.60 436.69,467.43 436.90,467.43 437.12,467.57 437.33,467.53 437.54,467.50 437.75,467.37 437.96,467.33 438.17,467.55 438.38,467.67 438.60,467.59 438.81,467.59 439.02,467.44 439.23,467.60 439.44,467.59 439.65,467.61 439.86,467.66 440.08,467.50 440.29,467.56 440.50,467.52 440.71,467.45 440.92,467.38 441.13,467.50 441.34,467.41 441.56,467.35 441.77,467.39 441.98,467.42 442.19,467.44 442.40,467.39 442.61,467.59 442.82,467.42 443.04,467.55 443.25,467.60 443.46,467.54 443.67,467.46 443.88,467.58 444.09,467.62 444.30,467.48 444.52,467.60 444.73,467.59 444.94,467.45 445.15,467.61 445.36,467.52 445.57,467.40 445.78,467.59 446.00,467.62 446.21,467.55 446.42,467.54 446.63,467.52 446.84,467.51 447.05,467.38 447.26,467.48 447.48,467.45 447.69,467.37 447.90,467.40 448.11,467.42 448.32,467.32 448.53,467.35 448.74,467.37 448.96,467.33 449.17,467.39 449.38,467.31 449.59,467.40 449.80,467.40 450.01,467.39 450.22,467.49 450.44,467.54 450.65,467.40 450.86,467.34 451.07,467.47 451.28,467.44 451.49,467.37 451.70,467.37 451.92,467.37 452.13,467.35 452.34,467.29 452.55,467.35 452.76,467.53 452.97,467.37 453.19,467.29 453.40,467.29 453.61,467.41 453.82,467.40 454.03,467.52 454.24,467.58 454.45,467.59 454.67,467.54 454.88,467.63 455.09,467.71 455.30,467.49 455.51,467.46 455.72,467.59 455.93,467.59 456.15,467.52 456.36,467.57 456.57,467.47 456.78,467.59 456.99,467.42 457.20,467.34 457.41,467.51 457.63,467.48 457.84,467.57 458.05,467.66 458.26,467.66 458.47,467.62 458.68,467.50 458.89,467.50 459.11,467.42 459.32,467.56 459.53,467.68 459.74,467.45 459.95,467.49 460.16,467.59 460.37,467.69 460.59,467.56 460.80,467.52 461.01,467.45 461.22,467.34 461.43,467.33 461.64,467.56 461.85,467.61 462.07,467.70 462.28,467.63 462.49,467.43 462.70,467.44 462.91,467.59 463.12,467.56 463.33,467.63 463.55,467.42 463.76,467.41 463.97,467.43 464.18,467.45 464.39,467.41 464.60,467.52 464.81,467.60 465.03,467.65 465.24,467.55 465.45,467.40 465.66,467.46 465.87,467.58 466.08,467.49" fill="none" stroke="#98eea8" stroke-width="1.2" stroke-opacity="1.0" stroke-linejoin="round"/>
<polyline points="465.66,467.39 465.87,467.44 466.08,467.47 466.29,467.63 466.51,467.66 466.72,467.67 466.93,467.64 467.14,467.47 467.35,467.61 467.56,467.53 467.77,467.54 467.99,467.40 468.20,467.39 468.41,467.55 468.62,467.41 468.83,467.33 469.04,467.36 469.25,467.39 469.47,467.44 469.68,467.47 469.89,467.39 470.10,467.29 470.31,467.35 470.52,467.37 470.73,467.45 470.95,467.49 471.16,467.56 471.37,467.51 471.58,467.47 471.79,467.53 472.00,467.64 472.21,467.62 472.43,467.42 472.64,467.40 472.85,467.59 473.06,467.68 473.27,467.53 473.48,467.43 473.69,467.32 473.91,467.30 474.12,467.27 474.33,467.53 474.54,467.65 474.75,467.53 474.96,467.37 475.17,467.56 475.39,467.57 475.60,467.65 475.81,467.52 476.02,467.62 476.23,467.65 476.44,467.63 476.65,467.61 476.87,467.62 477.08,467.55 477.29,467.66 477.50,467.46 477.71,467.45 477.92,467.44 478.13,467.46 478.35,467.58 478.56,467.41 478.77,467.43 478.98,467.45 479.19,467.44 479.40,467.50 479.62,467.56 479.83,467.57 480.04,467.54 480.25,467.48 480.46,467.64 480.67,467.66 480.88,467.63 481.10,467.44 481.31,467.44 481.52,467.53 481.73,467.42 481.94,467.44 482.15,467.45 482.36,467.37 482.58,467.54 482.79,467.63 483.00,467.50 483.21,467.40 483.42,467.38 483.63,467.50 483.84,467.42 484.06,467.53 484.27,467.64 484.48,467.45 484.69,467.53 484.90,467.58 485.11,467.57 485.32,467.58 485.54,467.48 485.75,467.38 485.96,467.56 486.17,467.44 486.38,467.59 486.59,467.64 486.80,467.54 487.02,467.51 487.23,467.44 487.44,467.39 487.65,467.54 487.86,467.39 488.07,467.36 488.28,467.57 488.50,467.49 488.71,467.52 488.92,467.55 489.13,467.58 489.34,467.64 489.55,467.66 489.76,467.52 489.98,467.46 490.19,467.63 490.40,467.69 490.61,467.57 490.82,467.47 491.03,467.45 491.24,467.57 491.46,467.46 491.67,467.34 491.88,467.30 492.09,467.31 492.30,467.52 492.51,467.41 492.72,467.34 492.94,467.49 493.15,467.61 493.36,467.70 493.57,467.72 493.78,467.74 493.99,467.72 494.20,467.74 494.42,467.61 494.63,467.67 494.84,467.45 495.05,467.40 495.26,467.58 495.47,467.52 495.68,467.51 495.90,467.56 496.11,467.50 496.32,467.37 496.53,467.53 496.74,467.43 496.95,467.58 497.16,467.56 497.38,467.54 497.59,467.67 497.80,467.54 498.01,467.60 498.22,467.46 498.43,467.57 498.64,467.47 498.86,467.60 499.07,467.53 499.28,467.62 499.49,467.70 499.70,467.51 499.91,467.46 500.12,467.62 500.34,467.54 500.55,467.40 500.76,467.37 500.97,467.41 501.18,467.43 501.39,467.49 501.60,467.55 501.82,467.41 502.03,467.33 502.24,467.33 502.45,467.55 502.66,467.44 502.87,467.55 503.08,467.59 503.30,467.50 503.51,467.62 503.72,467.66 503.93,467.68 504.14,467.73 504.35,467.62 504.56,467.42 504.78,467.59 504.99,467.40 505.20,467.35 505.41,467.37 505.62,467.40 505.83,467.47 506.05,467.35 506.26,467.34 506.47,467.47 506.68,467.40 506.89,467.39 507.10,467.50 507.31,467.52 507.53,467.61 507.74,467.68 507.95,467.45 508.16,467.35 508.37,467.58 508.58,467.51 508.79,467.51 509.01,467.37 509.22,467.56 509.43,467.53 509.64,467.54 509.85,467.60 510.06,467.62 510.27,467.42 510.49,467.57 510.70,467.63 510.91,467.63 511.12,467.68 511.33,467.73 511.54,467.56 511.75,467.63 511.97,467.54 512.18,467.64 512.39,467.61 512.60,467.60 512.81,467.61 513.02,467.47 513.23,467.42 513.45,467.38 513.66,467.34 513.87,467.37 514.08,467.53 514.29,467.45 514.50,467.40 514.71,467.51 514.93,467.55 515.14,467.47 515.35,467.62 515.56,467.64 515.77,467.57 515.98,467.41 516.19,467.46 516.41,467.39 516.62,467.48 516.83,467.60 517.04,467.49 517.25,467.38 517.46,467.46 517.67,467.57 517.89,467.39 518.10,467.54 518.31,467.64 518.52,467.70" fill="none" stroke="#a6def8" stroke-width="1.1" stroke-opacity="1.0" stroke-linejoin="round"/>
<polyline points="518.52,467.50 518.73,467.61 518.94,467.43 519.15,467.43 519.37,467.33 519.58,467.46 519.79,467.39 520.00,467.39 520.21,467.54 520.42,467.39 520.63,467.34 520.85,467.36 521.06,467.52 521.27,467.50 521.48,467.54 521.69,467.64 521.90,467.49 522.11,467.48 522.33,467.39 522.54,467.53 522.75,467.37 522.96,467.51 523.17,467.46 523.38,467.50 523.59,467.41 523.81,467.58 524.02,467.49 524.23,467.48 524.44,467.62 524.65,467.59 524.86,467.49 525.07,467.41 525.29,467.58 525.50,467.61 525.71,467.59 525.92,467.56 526.13,467.66 526.34,467.47 526.55,467.44 526.77,467.57 526.98,467.58 527.19,467.58 527.40,467.59 527.61,467.53 527.82,467.53 528.03,467.50 528.25,467.63 528.46,467.50 528.67,467.43 528.88,467.41 529.09,467.35 529.30,467.46 529.51,467.50 529.73,467.37 529.94,467.36 530.15,467.55 530.36,467.45 530.57,467.53 530.78,467.49 530.99,467.39 531.21,467.59 531.42,467.58 531.63,467.47 531.84,467.51 532.05,467.44 532.26,467.56 532.48,467.39 532.69,467.42 532.90,467.50 533.11,467.57 533.32,467.42 533.53,467.32 533.74,467.40 533.96,467.48 534.17,467.48 534.38,467.36 534.59,467.36 534.80,467.49 535.01,467.50 535.22,467.63 535.44,467.43 535.65,467.50 535.86,467.53 536.07,467.50 536.28,467.37 536.49,467.40 536.70,467.39 536.92,467.35 537.13,467.52 537.34,467.39 537.55,467.31 537.76,467.52 537.97,467.65 538.18,467.62 538.40,467.56 538.61,467.59 538.82,467.41 539.03,467.38 539.24,467.44 539.45,467.35 539.66,467.54 539.88,467.55 540.09,467.44 540.30,467.50 540.51,467.60 540.72,467.60 540.93,467.66 541.14,467.66 541.36,467.60 541.57,467.67 541.78,467.70 541.99,467.54 542.20,467.43 542.41,467.36 542.62,467.50 542.84,467.59 543.05,467.56 543.26,467.67 543.47,467.54 543.68,467.44 543.89,467.42 544.10,467.52 544.32,467.49 544.53,467.62 544.74,467.52 544.95,467.62 545.16,467.63 545.37,467.57 545.58,467.68 545.80,467.64 546.01,467.69 546.22,467.74 546.43,467.68 546.64,467.57 546.85,467.47 547.06,467.62 547.28,467.52 547.49,467.64 547.70,467.51 547.91,467.42 548.12,467.59 548.33,467.59 548.54,467.44 548.76,467.46 548.97,467.40 549.18,467.43 549.39,467.51 549.60,467.56 549.81,467.65 550.02,467.72 550.24,467.56 550.45,467.47 550.66,467.63 550.87,467.58 551.08,467.61 551.29,467.45 551.50,467.38 551.72,467.38 551.93,467.41 552.14,467.44 552.35,467.58 552.56,467.62 552.77,467.56 552.98,467.67 553.20,467.73 553.41,467.75 553.62,467.53 553.83,467.46 554.04,467.35 554.25,467.32 554.46,467.51 554.68,467.38 554.89,467.49 555.10,467.35 555.31,467.52 555.52,467.38 555.73,467.48 555.94,467.60 556.16,467.52 556.37,467.50 556.58,467.63 556.79,467.67 557.00,467.70 557.21,467.62 557.42,467.66 557.64,467.70 557.85,467.61 558.06,467.61 558.27,467.61 558.48,467.46 558.69,467.55 558.91,467.50 559.12,467.58 559.33,467.54 559.54,467.62 559.75,467.54 559.96,467.60 560.17,467.48 560.39,467.54 560.60,467.47 560.81,467.35 561.02,467.29 561.23,467.44 561.44,467.39 561.65,467.38 561.87,467.47 562.08,467.57 562.29,467.39 562.50,467.41 562.71,467.53 562.92,467.43 563.13,467.34 563.35,467.55 563.56,467.51 563.77,467.61 563.98,467.42 564.19,467.46 564.40,467.53 564.61,467.39 564.83,467.53 565.04,467.52 565.25,467.60 565.46,467.60 565.67,467.62 565.88,467.69 566.09,467.70 566.31,467.75 566.52,467.50 566.73,467.38 566.94,467.47 567.15,467.39 567.36,467.39 567.57,467.44 567.79,467.58 568.00,467.41 568.21,467.59 568.42,467.49 568.63,467.64 568.84,467.56 569.05,467.55 569.27,467.46 569.48,467.50 569.69,467.48 569.90,467.54 570.11,467.37 570.32,467.47 570.53,467.59 570.75,467.57 570.96,467.59 571.17,467.53 571.38,467.42" fill="none" stroke="#c8a6f8" stroke-width="1.4" stroke-opacity="1.0" stroke-linejoin="round"/>
<polyline points="571.38,467.59 571.59,467.71 571.80,467.42 572.01,467.26 572.23,467.58 572.44,467.47 572.65,467.36 572.86,467.43 573.07,467.49 573.28,467.59 573.49,467.59 573.71,467.56 573.92,467.63 574.13,467.47 574.34,467.47 574.55,467.64 574.76,467.66 574.97,467.62 575.19,467.41 575.40,467.63 575.61,467.38 575.82,467.57 576.03,467.39 576.24,467.45 576.45,467.55 576.67,467.54 576.88,467.32 577.09,467.29 577.30,467.37 577.51,467.35 577.72,467.27 577.93,467.23 578.15,467.46 578.36,467.50 578.57,467.48 578.78,467.30 578.99,467.51 579.20,467.70 579.41,467.69 579.63,467.59 579.84,467.63 580.05,467.62 580.26,467.41 580.47,467.48 580.68,467.53 580.89,467.39 581.11,467.35 581.32,467.35 581.53,467.37 581.74,467.36 581.95,467.61 582.16,467.71 582.37,467.60 582.59,467.42 582.80,467.63 583.01,467.70 583.22,467.41 583.43,467.58 583.64,467.35 583.85,467.56 584.07,467.57 584.28,467.71 584.49,467.66 584.70,467.44 584.91,467.48 585.12,467.65 585.34,467.53 585.55,467.56 585.76,467.47 585.97,467.55 586.18,467.47 586.39,467.39 586.60,467.25 586.82,467.54 587.03,467.56 587.24,467.69 587.45,467.67 587.66,467.51 587.87,467.33 588.08,467.61 588.30,467.72 588.51,467.77 588.72,467.59 588.93,467.58 589.14,467.64 589.35,467.50 589.56,467.41 589.78,467.36 589.99,467.43 590.20,467.43 590.41,467.61 590.62,467.68 590.83,467.45 591.04,467.39 591.26,467.43 591.47,467.64 591.68,467.71 591.89,467.58 592.10,467.67 592.31,467.43 592.52,467.30 592.74,467.56 592.95,467.40 593.16,467.58 593.37,467.71 593.58,467.57 593.79,467.47 594.00,467.30 594.22,467.21 594.43,467.53 594.64,467.67 594.85,467.43 595.06,467.41 595.27,467.52 595.48,467.45 595.70,467.28 595.91,467.57 596.12,467.55 596.33,467.44 596.54,467.63 596.75,467.50 596.96,467.70 597.18,467.67 597.39,467.76 597.60,467.58 597.81,467.58 598.02,467.65 598.23,467.60 598.44,467.59 598.66,467.59 598.87,467.73 599.08,467.78 599.29,467.62 599.50,467.49 599.71,467.61 599.92,467.57 600.14,467.46 600.35,467.41 600.56,467.36 600.77,467.33 600.98,467.41 601.19,467.41 601.40,467.30 601.62,467.56 601.83,467.45 602.04,467.65 602.25,467.65 602.46,467.76 602.67,467.71 602.88,467.78 603.10,467.63 603.31,467.65 603.52,467.62 603.73,467.38 603.94,467.62 604.15,467.66 604.36,467.42 604.58,467.54 604.79,467.58 605.00,467.73 605.21,467.62 605.42,467.39 605.63,467.44 605.84,467.48 606.06,467.51 606.27,467.49 606.48,467.31 606.69,467.37 606.90,467.33 607.11,467.59 607.32,467.48 607.54,467.68 607.75,467.53 607.96,467.46 608.17,467.28 608.38,467.52 608.59,467.34 608.80,467.52 609.02,467.58 609.23,467.57 609.44,467.46 609.65,467.64 609.86,467.67 610.07,467.54 610.28,467.65 610.50,467.38 610.71,467.55 610.92,467.37 611.13,467.47 611.34,467.58 611.55,467.71 611.77,467.44 611.98,467.56 612.19,467.63 612.40,467.59 612.61,467.40 612.82,467.62 613.03,467.38 613.25,467.49 613.46,467.36 613.67,467.61 613.88,467.42 614.09,467.48 614.30,467.41 614.51,467.43 614.73,467.48 614.94,467.37 615.15,467.35 615.36,467.34 615.57,467.38 615.78,467.44 615.99,467.29 616.21,467.36 616.42,467.47 616.63,467.47 616.84,467.39 617.05,467.60 617.26,467.45 617.47,467.58 617.69,467.38 617.90,467.49 618.11,467.60 618.32,467.65 618.53,467.62 618.74,467.52 618.95,467.68 619.17,467.78 619.38,467.69 619.59,467.63 619.80,467.70 620.01,467.61 620.22,467.74 620.43,467.67 620.65,467.58 620.86,467.42 621.07,467.45 621.28,467.51 621.49,467.44 621.70,467.45 621.91,467.40 622.13,467.49 622.34,467.49 622.55,467.65 622.76,467.70 622.97,467.69 623.18,467.74 623.39,467.47 623.61,467.61 623.82,467.71 624.03,467.63 624.24,467.40" fill="none" stroke="#9cc46a" stroke-width="1.6" stroke-opacity="1.0" stroke-linejoin="round"/>
<polyline points="624.77,467.38 624.98,467.49 625.19,467.34 625.40,467.58 625.61,467.42 625.83,467.44 626.04,467.58 626.25,467.70 626.46,467.63 626.67,467.64 626.88,467.58 627.09,467.68 627.31,467.48 627.52,467.56 627.73,467.57 627.94,467.52 628.15,467.48 628.36,467.29 628.57,467.42 628.79,467.43 629.00,467.51 629.21,467.49 629.42,467.66 629.63,467.66 629.84,467.64 630.05,467.46 630.27,467.44 630.48,467.65 630.69,467.52 630.90,467.37 631.11,467.39 631.32,467.30 631.53,467.53 631.75,467.59 631.96,467.43 632.17,467.64 632.38,467.56 632.59,467.46 632.80,467.64 633.01,467.43 633.23,467.37 633.44,467.40 633.65,467.60 633.86,467.49 634.07,467.52 634.28,467.38 634.49,467.34 634.71,467.36 634.92,467.52 635.13,467.64 635.34,467.68 635.55,467.45 635.76,467.45 635.97,467.34 636.19,467.52 636.40,467.43 636.61,467.66 636.82,467.71 637.03,467.76 637.24,467.57 637.45,467.72 637.67,467.72 637.88,467.46 638.09,467.67 638.30,467.44 638.51,467.66 638.72,467.50 638.94,467.40 639.15,467.47 639.36,467.30 639.57,467.50 639.78,467.60 639.99,467.38 640.20,467.54 640.42,467.52 640.63,467.51 640.84,467.52 641.05,467.60 641.26,467.75 641.47,467.67 641.68,467.47 641.90,467.58 642.11,467.51 642.32,467.48 642.53,467.43 642.74,467.52 642.95,467.41 643.16,467.58 643.38,467.51 643.59,467.57 643.80,467.45 644.01,467.40 644.22,467.52 644.43,467.45 644.64,467.48 644.86,467.35 645.07,467.49 645.28,467.48 645.49,467.36 645.70,467.43 645.91,467.34 646.12,467.25 646.34,467.27 646.55,467.26 646.76,467.31 646.97,467.22 647.18,467.53 647.39,467.64 647.60,467.64 647.82,467.69 648.03,467.56 648.24,467.36 648.45,467.24 648.66,467.33 648.87,467.59 649.08,467.54 649.30,467.61 649.51,467.67 649.72,467.45 649.93,467.66 650.14,467.74 650.35,467.53 650.56,467.34 650.78,467.59 650.99,467.71 651.20,467.47 651.41,467.41 651.62,467.31 651.83,467.25 652.04,467.45 652.26,467.31 652.47,467.51 652.68,467.39 652.89,467.65 653.10,467.72 653.31,467.75 653.52,467.50 653.74,467.51 653.95,467.32 654.16,467.39 654.37,467.29 654.58,467.50 654.79,467.67 655.00,467.48 655.22,467.61 655.43,467.66 655.64,467.69 655.85,467.69 656.06,467.58 656.27,467.41 656.48,467.28 656.70,467.38 656.91,467.32 657.12,467.22 657.33,467.19 657.54,467.38 657.75,467.43 657.96,467.42 658.18,467.52 658.39,467.49 658.60,467.49 658.81,467.66 659.02,467.59 659.23,467.62 659.44,467.63 659.66,467.53 659.87,467.72 660.08,467.54 660.29,467.45 660.50,467.38 660.71,467.39 660.92,467.57 661.14,467.49 661.35,467.39 661.56,467.49 661.77,467.46 661.98,467.67 662.19,467.45 662.40,467.50 662.62,467.39 662.83,467.63 663.04,467.65 663.25,467.60 663.46,467.48 663.67,467.39 663.88,467.48 664.10,467.67 664.31,467.45 664.52,467.30 664.73,467.23 664.94,467.51 665.15,467.55 665.37,467.40 665.58,467.37 665.79,467.28 666.00,467.47 666.21,467.38 666.42,467.24 666.63,467.28 666.85,467.54 667.06,467.66 667.27,467.50 667.48,467.55 667.69,467.72 667.90,467.42 668.11,467.44 668.33,467.50 668.54,467.36 668.75,467.34 668.96,467.36 669.17,467.39 669.38,467.56 669.59,467.49 669.81,467.44 670.02,467.47 670.23,467.44 670.44,467.56 670.65,467.62 670.86,467.44 671.07,467.65 671.29,467.51 671.50,467.55 671.71,467.67 671.92,467.52 672.13,467.67 672.34,467.66 672.55,467.47 672.77,467.49 672.98,467.44 673.19,467.37 673.40,467.28 673.61,467.28 673.82,467.21 674.03,467.36 674.25,467.56 674.46,467.56 674.67,467.48 674.88,467.58 675.09,467.41 675.30,467.26 675.51,467.36 675.73,467.54 675.94,467.70 676.15,467.77 676.36,467.69 676.57,467.75 676.78,467.52 676.99,467.40" fill="none" stroke="#fcb6c1" stroke-width="3.0" stroke-opacity="1.0" stroke-linejoin="round"/>
<line x1="49.40" y1="232.13" x2="54.00" y2="232.13" stroke="#2a2a2a" stroke-width="1.3"/>
<text x="47.00" y="235.63" text-anchor="end" font-size="10.3" font-weight="bold" fill="#111">-90</text>
<line x1="49.40" y1="207.63" x2="54.00" y2="207.63" stroke="#2a2a2a" stroke-width="1.3"/>
<text x="47.00" y="211.13" text-anchor="end" font-size="10.3" font-weight="bold" fill="#111">-60</text>
<line x1="49.40" y1="183.13" x2="54.00" y2="183.13" stroke="#2a2a2a" stroke-width="1.3"/>
<text x="47.00" y="186.63" text-anchor="end" font-size="10.3" font-weight="bold" fill="#111">-30</text>
<line x1="49.40" y1="158.63" x2="54.00" y2="158.63" stroke="#2a2a2a" stroke-width="1.3"/>
<text x="47.00" y="162.13" text-anchor="end" font-size="10.3" font-weight="bold" fill="#111">0</text>
<line x1="49.40" y1="134.13" x2="54.00" y2="134.13" stroke="#2a2a2a" stroke-width="1.3"/>
<text x="47.00" y="137.63" text-anchor="end" font-size="10.3" font-weight="bold" fill="#111">30</text>
<line x1="49.40" y1="109.63" x2="54.00" y2="109.63" stroke="#2a2a2a" stroke-width="1.3"/>
<text x="47.00" y="113.13" text-anchor="end" font-size="10.3" font-weight="bold" fill="#111">60</text>
<line x1="49.40" y1="85.13" x2="54.00" y2="85.13" stroke="#2a2a2a" stroke-width="1.3"/>
<text x="47.00" y="88.63" text-anchor="end" font-size="10.3" font-weight="bold" fill="#111">90</text>
<line x1="49.40" y1="60.63" x2="54.00" y2="60.63" stroke="#2a2a2a" stroke-width="1.3"/>
<text x="47.00" y="64.13" text-anchor="end" font-size="10.3" font-weight="bold" fill="#111">120</text>
<line x1="49.40" y1="36.13" x2="54.00" y2="36.13" stroke="#2a2a2a" stroke-width="1.3"/>
<text x="47.00" y="39.63" text-anchor="end" font-size="10.3" font-weight="bold" fill="#111">150</text>
<line x1="49.40" y1="11.63" x2="54.00" y2="11.63" stroke="#2a2a2a" stroke-width="1.3"/>
<text x="47.00" y="15.13" text-anchor="end" font-size="10.3" font-weight="bold" fill="#111">180</text>
<line x1="51.60" y1="219.88" x2="54.00" y2="219.88" stroke="#2a2a2a" stroke-width="1.3"/>
<line x1="51.60" y1="195.38" x2="54.00" y2="195.38" stroke="#2a2a2a" stroke-width="1.3"/>
<line x1="51.60" y1="170.88" x2="54.00" y2="170.88" stroke="#2a2a2a" stroke-width="1.3"/>
<line x1="51.60" y1="146.38" x2="54.00" y2="146.38" stroke="#2a2a2a" stroke-width="1.3"/>
<line x1="51.60" y1="121.88" x2="54.00" y2="121.88" stroke="#2a2a2a" stroke-width="1.3"/>
<line x1="51.60" y1="97.38" x2="54.00" y2="97.38" stroke="#2a2a2a" stroke-width="1.3"/>
<line x1="51.60" y1="72.88" x2="54.00" y2="72.88" stroke="#2a2a2a" stroke-width="1.3"/>
<line x1="51.60" y1="48.38" x2="54.00" y2="48.38" stroke="#2a2a2a" stroke-width="1.3"/>
<line x1="51.60" y1="23.88" x2="54.00" y2="23.88" stroke="#2a2a2a" stroke-width="1.3"/>
<line x1="58.90" y1="232.30" x2="58.90" y2="236.70" stroke="#2a2a2a" stroke-width="1.3"/>
<text x="58.90" y="248.10" text-anchor="middle" font-size="10.3" font-weight="bold" fill="#111">0</text>
<line x1="111.78" y1="232.30" x2="111.78" y2="236.70" stroke="#2a2a2a" stroke-width="1.3"/>
<text x="111.78" y="248.10" text-anchor="middle" font-size="10.3" font-weight="bold" fill="#111">5</text>
<line x1="164.66" y1="232.30" x2="164.66" y2="236.70" stroke="#2a2a2a" stroke-width="1.3"/>
<text x="164.66" y="248.10" text-anchor="middle" font-size="10.3" font-weight="bold" fill="#111">10</text>
<line x1="217.54" y1="232.30" x2="217.54" y2="236.70" stroke="#2a2a2a" stroke-width="1.3"/>
<text x="217.54" y="248.10" text-anchor="middle" font-size="10.3" font-weight="bold" fill="#111">15</text>
<line x1="270.42" y1="232.30" x2="270.42" y2="236.70" stroke="#2a2a2a" stroke-width="1.3"/>
<text x="270.42" y="248.10" text-anchor="middle" font-size="10.3" font-weight="bold" fill="#111">20</text>
<line x1="323.30" y1="232.30" x2="323.30" y2="236.70" stroke="#2a2a2a" stroke-width="1.3"/>
<text x="323.30" y="248.10" text-anchor="middle" font-size="10.3" font-weight="bold" fill="#111">25</text>
<line x1="85.34" y1="232.30" x2="85.34" y2="234.70" stroke="#2a2a2a" stroke-width="1.3"/>
<line x1="138.22" y1="232.30" x2="138.22" y2="234.70" stroke="#2a2a2a" stroke-width="1.3"/>
<line x1="191.10" y1="232.30" x2="191.10" y2="234.70" stroke="#2a2a2a" stroke-width="1.3"/>
<line x1="243.98" y1="232.30" x2="243.98" y2="234.70" stroke="#2a2a2a" stroke-width="1.3"/>
<line x1="296.86" y1="232.30" x2="296.86" y2="234.70" stroke="#2a2a2a" stroke-width="1.3"/>
<rect x="54.00" y="11.80" width="274.50" height="220.50" fill="none" stroke="#2a2a2a" stroke-width="1.6"/>
<text x="191.25" y="267.50" text-anchor="middle" font-size="12.6" font-weight="bold" fill="#111">Time(s)</text>
<line x1="403.10" y1="224.78" x2="407.70" y2="224.78" stroke="#2a2a2a" stroke-width="1.3"/>
<text x="400.40" y="228.28" text-anchor="end" font-size="10.3" font-weight="bold" fill="#111">-80</text>
<line x1="403.10" y1="195.34" x2="407.70" y2="195.34" stroke="#2a2a2a" stroke-width="1.3"/>
<text x="400.40" y="198.84" text-anchor="end" font-size="10.3" font-weight="bold" fill="#111">-40</text>
<line x1="403.10" y1="165.90" x2="407.70" y2="165.90" stroke="#2a2a2a" stroke-width="1.3"/>
<text x="400.40" y="169.40" text-anchor="end" font-size="10.3" font-weight="bold" fill="#111">0</text>
<line x1="403.10" y1="136.46" x2="407.70" y2="136.46" stroke="#2a2a2a" stroke-width="1.3"/>
<text x="400.40" y="139.96" text-anchor="end" font-size="10.3" font-weight="bold" fill="#111">40</text>
<line x1="403.10" y1="107.02" x2="407.70" y2="107.02" stroke="#2a2a2a" stroke-width="1.3"/>
<text x="400.40" y="110.52" text-anchor="end" font-size="10.3" font-weight="bold" fill="#111">80</text>
<line x1="403.10" y1="77.58" x2="407.70" y2="77.58" stroke="#2a2a2a" stroke-width="1.3"/>
<text x="400.40" y="81.08" text-anchor="end" font-size="10.3" font-weight="bold" fill="#111">120</text>
<line x1="403.10" y1="48.14" x2="407.70" y2="48.14" stroke="#2a2a2a" stroke-width="1.3"/>
<text x="400.40" y="51.64" text-anchor="end" font-size="10.3" font-weight="bold" fill="#111">160</text>
<line x1="403.10" y1="18.70" x2="407.70" y2="18.70" stroke="#2a2a2a" stroke-width="1.3"/>
<text x="400.40" y="22.20" text-anchor="end" font-size="10.3" font-weight="bold" fill="#111">200</text>
<line x1="405.30" y1="210.06" x2="407.70" y2="210.06" stroke="#2a2a2a" stroke-width="1.3"/>
<line x1="405.30" y1="180.62" x2="407.70" y2="180.62" stroke="#2a2a2a" stroke-width="1.3"/>
<line x1="405.30" y1="151.18" x2="407.70" y2="151.18" stroke="#2a2a2a" stroke-width="1.3"/>
<line x1="405.30" y1="121.74" x2="407.70" y2="121.74" stroke="#2a2a2a" stroke-width="1.3"/>
<line x1="405.30" y1="92.30" x2="407.70" y2="92.30" stroke="#2a2a2a" stroke-width="1.3"/>
<line x1="405.30" y1="62.86" x2="407.70" y2="62.86" stroke="#2a2a2a" stroke-width="1.3"/>
<line x1="405.30" y1="33.42" x2="407.70" y2="33.42" stroke="#2a2a2a" stroke-width="1.3"/>
<line x1="412.80" y1="231.80" x2="412.80" y2="236.20" stroke="#2a2a2a" stroke-width="1.3"/>
<text x="412.80" y="247.60" text-anchor="middle" font-size="10.3" font-weight="bold" fill="#111">0</text>
<line x1="465.66" y1="231.80" x2="465.66" y2="236.20" stroke="#2a2a2a" stroke-width="1.3"/>
<text x="465.66" y="247.60" text-anchor="middle" font-size="10.3" font-weight="bold" fill="#111">5</text>
<line x1="518.52" y1="231.80" x2="518.52" y2="236.20" stroke="#2a2a2a" stroke-width="1.3"/>
<text x="518.52" y="247.60" text-anchor="middle" font-size="10.3" font-weight="bold" fill="#111">10</text>
<line x1="571.38" y1="231.80" x2="571.38" y2="236.20" stroke="#2a2a2a" stroke-width="1.3"/>
<text x="571.38" y="247.60" text-anchor="middle" font-size="10.3" font-weight="bold" fill="#111">15</text>
<line x1="624.24" y1="231.80" x2="624.24" y2="236.20" stroke="#2a2a2a" stroke-width="1.3"/>
<text x="624.24" y="247.60" text-anchor="middle" font-size="10.3" font-weight="bold" fill="#111">20</text>
<line x1="677.10" y1="231.80" x2="677.10" y2="236.20" stroke="#2a2a2a" stroke-width="1.3"/>
<text x="677.10" y="247.60" text-anchor="middle" font-size="10.3" font-weight="bold" fill="#111">25</text>
<line x1="439.23" y1="231.80" x2="439.23" y2="234.20" stroke="#2a2a2a" stroke-width="1.3"/>
<line x1="492.09" y1="231.80" x2="492.09" y2="234.20" stroke="#2a2a2a" stroke-width="1.3"/>
<line x1="544.95" y1="231.80" x2="544.95" y2="234.20" stroke="#2a2a2a" stroke-width="1.3"/>
<line x1="597.81" y1="231.80" x2="597.81" y2="234.20" stroke="#2a2a2a" stroke-width="1.3"/>
<line x1="650.67" y1="231.80" x2="650.67" y2="234.20" stroke="#2a2a2a" stroke-width="1.3"/>
<rect x="407.70" y="11.80" width="274.20" height="220.00" fill="none" stroke="#2a2a2a" stroke-width="1.6"/>
<text x="544.80" y="267.00" text-anchor="middle" font-size="12.6" font-weight="bold" fill="#111">Time(s)</text>
<line x1="49.40" y1="511.10" x2="54.00" y2="511.10" stroke="#2a2a2a" stroke-width="1.3"/>
<text x="46.60" y="514.60" text-anchor="end" font-size="10.3" font-weight="bold" fill="#111">-500</text>
<line x1="49.40" y1="466.90" x2="54.00" y2="466.90" stroke="#2a2a2a" stroke-width="1.3"/>
<text x="46.60" y="470.40" text-anchor="end" font-size="10.3" font-weight="bold" fill="#111">0</text>
<line x1="49.40" y1="422.70" x2="54.00" y2="422.70" stroke="#2a2a2a" stroke-width="1.3"/>
<text x="46.60" y="426.20" text-anchor="end" font-size="10.3" font-weight="bold" fill="#111">500</text>
<line x1="49.40" y1="378.50" x2="54.00" y2="378.50" stroke="#2a2a2a" stroke-width="1.3"/>
<text x="46.60" y="382.00" text-anchor="end" font-size="10.3" font-weight="bold" fill="#111">1000</text>
<line x1="49.40" y1="334.30" x2="54.00" y2="334.30" stroke="#2a2a2a" stroke-width="1.3"/>
<text x="46.60" y="337.80" text-anchor="end" font-size="10.3" font-weight="bold" fill="#111">1500</text>
<line x1="51.60" y1="489.00" x2="54.00" y2="489.00" stroke="#2a2a2a" stroke-width="1.3"/>
<line x1="51.60" y1="444.80" x2="54.00" y2="444.80" stroke="#2a2a2a" stroke-width="1.3"/>
<line x1="51.60" y1="400.60" x2="54.00" y2="400.60" stroke="#2a2a2a" stroke-width="1.3"/>
<line x1="51.60" y1="356.40" x2="54.00" y2="356.40" stroke="#2a2a2a" stroke-width="1.3"/>
<line x1="51.60" y1="312.20" x2="54.00" y2="312.20" stroke="#2a2a2a" stroke-width="1.3"/>
<line x1="58.90" y1="519.60" x2="58.90" y2="524.00" stroke="#2a2a2a" stroke-width="1.3"/>
<text x="58.90" y="535.80" text-anchor="middle" font-size="10.3" font-weight="bold" fill="#111">0</text>
<line x1="111.78" y1="519.60" x2="111.78" y2="524.00" stroke="#2a2a2a" stroke-width="1.3"/>
<text x="111.78" y="535.80" text-anchor="middle" font-size="10.3" font-weight="bold" fill="#111">5</text>
<line x1="164.66" y1="519.60" x2="164.66" y2="524.00" stroke="#2a2a2a" stroke-width="1.3"/>
<text x="164.66" y="535.80" text-anchor="middle" font-size="10.3" font-weight="bold" fill="#111">10</text>
<line x1="217.54" y1="519.60" x2="217.54" y2="524.00" stroke="#2a2a2a" stroke-width="1.3"/>
<text x="217.54" y="535.80" text-anchor="middle" font-size="10.3" font-weight="bold" fill="#111">15</text>
<line x1="270.42" y1="519.60" x2="270.42" y2="524.00" stroke="#2a2a2a" stroke-width="1.3"/>
<text x="270.42" y="535.80" text-anchor="middle" font-size="10.3" font-weight="bold" fill="#111">20</text>
<line x1="323.30" y1="519.60" x2="323.30" y2="524.00" stroke="#2a2a2a" stroke-width="1.3"/>
<text x="323.30" y="535.80" text-anchor="middle" font-size="10.3" font-weight="bold" fill="#111">25</text>
<line x1="85.34" y1="519.60" x2="85.34" y2="522.00" stroke="#2a2a2a" stroke-width="1.3"/>
<line x1="138.22" y1="519.60" x2="138.22" y2="522.00" stroke="#2a2a2a" stroke-width="1.3"/>
<line x1="191.10" y1="519.60" x2="191.10" y2="522.00" stroke="#2a2a2a" stroke-width="1.3"/>
<line x1="243.98" y1="519.60" x2="243.98" y2="522.00" stroke="#2a2a2a" stroke-width="1.3"/>
<line x1="296.86" y1="519.60" x2="296.86" y2="522.00" stroke="#2a2a2a" stroke-width="1.3"/>
<rect x="54.00" y="299.10" width="274.40" height="220.50" fill="none" stroke="#2a2a2a" stroke-width="1.6"/>
<text x="191.20" y="555.80" text-anchor="middle" font-size="12.6" font-weight="bold" fill="#111">Time(s)</text>
<line x1="402.90" y1="507.70" x2="407.50" y2="507.70" stroke="#2a2a2a" stroke-width="1.3"/>
<text x="400.20" y="511.20" text-anchor="end" font-size="10.3" font-weight="bold" fill="#111">-500</text>
<line x1="402.90" y1="467.50" x2="407.50" y2="467.50" stroke="#2a2a2a" stroke-width="1.3"/>
<text x="400.20" y="471.00" text-anchor="end" font-size="10.3" font-weight="bold" fill="#111">0</text>
<line x1="402.90" y1="427.30" x2="407.50" y2="427.30" stroke="#2a2a2a" stroke-width="1.3"/>
<text x="400.20" y="430.80" text-anchor="end" font-size="10.3" font-weight="bold" fill="#111">500</text>
<line x1="402.90" y1="387.10" x2="407.50" y2="387.10" stroke="#2a2a2a" stroke-width="1.3"/>
<text x="400.20" y="390.60" text-anchor="end" font-size="10.3" font-weight="bold" fill="#111">1000</text>
<line x1="402.90" y1="346.90" x2="407.50" y2="346.90" stroke="#2a2a2a" stroke-width="1.3"/>
<text x="400.20" y="350.40" text-anchor="end" font-size="10.3" font-weight="bold" fill="#111">1500</text>
<line x1="402.90" y1="306.70" x2="407.50" y2="306.70" stroke="#2a2a2a" stroke-width="1.3"/>
<text x="400.20" y="310.20" text-anchor="end" font-size="10.3" font-weight="bold" fill="#111">2000</text>
<line x1="405.10" y1="487.60" x2="407.50" y2="487.60" stroke="#2a2a2a" stroke-width="1.3"/>
<line x1="405.10" y1="447.40" x2="407.50" y2="447.40" stroke="#2a2a2a" stroke-width="1.3"/>
<line x1="405.10" y1="407.20" x2="407.50" y2="407.20" stroke="#2a2a2a" stroke-width="1.3"/>
<line x1="405.10" y1="367.00" x2="407.50" y2="367.00" stroke="#2a2a2a" stroke-width="1.3"/>
<line x1="405.10" y1="326.80" x2="407.50" y2="326.80" stroke="#2a2a2a" stroke-width="1.3"/>
<line x1="412.80" y1="519.60" x2="412.80" y2="524.00" stroke="#2a2a2a" stroke-width="1.3"/>
<text x="412.80" y="535.80" text-anchor="middle" font-size="10.3" font-weight="bold" fill="#111">0</text>
<line x1="465.66" y1="519.60" x2="465.66" y2="524.00" stroke="#2a2a2a" stroke-width="1.3"/>
<text x="465.66" y="535.80" text-anchor="middle" font-size="10.3" font-weight="bold" fill="#111">5</text>
<line x1="518.52" y1="519.60" x2="518.52" y2="524.00" stroke="#2a2a2a" stroke-width="1.3"/>
<text x="518.52" y="535.80" text-anchor="middle" font-size="10.3" font-weight="bold" fill="#111">10</text>
<line x1="571.38" y1="519.60" x2="571.38" y2="524.00" stroke="#2a2a2a" stroke-width="1.3"/>
<text x="571.38" y="535.80" text-anchor="middle" font-size="10.3" font-weight="bold" fill="#111">15</text>
<line x1="624.24" y1="519.60" x2="624.24" y2="524.00" stroke="#2a2a2a" stroke-width="1.3"/>
<text x="624.24" y="535.80" text-anchor="middle" font-size="10.3" font-weight="bold" fill="#111">20</text>
<line x1="677.10" y1="519.60" x2="677.10" y2="524.00" stroke="#2a2a2a" stroke-width="1.3"/>
<text x="677.10" y="535.80" text-anchor="middle" font-size="10.3" font-weight="bold" fill="#111">25</text>
<line x1="439.23" y1="519.60" x2="439.23" y2="522.00" stroke="#2a2a2a" stroke-width="1.3"/>
<line x1="492.09" y1="519.60" x2="492.09" y2="522.00" stroke="#2a2a2a" stroke-width="1.3"/>
<line x1="544.95" y1="519.60" x2="544.95" y2="522.00" stroke="#2a2a2a" stroke-width="1.3"/>
<line x1="597.81" y1="519.60" x2="597.81" y2="522.00" stroke="#2a2a2a" stroke-width="1.3"/>
<line x1="650.67" y1="519.60" x2="650.67" y2="522.00" stroke="#2a2a2a" stroke-width="1.3"/>
<rect x="407.50" y="299.30" width="274.40" height="220.30" fill="none" stroke="#2a2a2a" stroke-width="1.6"/>
<text x="544.70" y="555.80" text-anchor="middle" font-size="12.6" font-weight="bold" fill="#111">Time(s)</text>
<text x="0.5" y="12.9" font-size="17.4" font-weight="bold" fill="#111">(a)</text>
<text x="354.5" y="12.9" font-size="17.4" font-weight="bold" fill="#111">(b)</text>
<text x="0.5" y="299.4" font-size="17.4" font-weight="bold" fill="#111">(c)</text>
<text x="354.5" y="299.3" font-size="17.4" font-weight="bold" fill="#111">(d)</text>
<text x="68.3" y="36.9" font-size="14.6" font-weight="bold" fill="#ff0000">TENG-1</text>
<text x="422.2" y="37.2" font-size="14.6" font-weight="bold" fill="#ff0000">TENG-2</text>
<text x="69.4" y="324.6" font-size="14.6" font-weight="bold" fill="#ff0000">TENG-1</text>
<text x="422.6" y="325.0" font-size="14.6" font-weight="bold" fill="#ff0000">TENG-2</text>
<text transform="translate(17.40,116.20) rotate(-90)" text-anchor="middle" font-size="12.6" font-weight="bold" fill="#111" stroke="#111" stroke-width="0.25"><tspan font-style="italic">Isc</tspan>(μA)</text>
<text transform="translate(371.60,116.40) rotate(-90)" text-anchor="middle" font-size="12.6" font-weight="bold" fill="#111" stroke="#111" stroke-width="0.25"><tspan font-style="italic">Isc</tspan>(μA)</text>
<text transform="translate(13.00,403.20) rotate(-90)" text-anchor="middle" font-size="12.6" font-weight="bold" fill="#111" stroke="#111" stroke-width="0.25"><tspan font-style="italic">Voc</tspan>(V)</text>
<text transform="translate(366.80,403.20) rotate(-90)" text-anchor="middle" font-size="12.6" font-weight="bold" fill="#111" stroke="#111" stroke-width="0.25"><tspan font-style="italic">Voc</tspan>(V)</text>
<text x="76.30" y="137.20" font-size="10.5" font-weight="bold" fill="#5cf275">1Hz</text>
<text x="130.80" y="119.20" font-size="10.5" font-weight="bold" fill="#4cc8f8">2Hz</text>
<text x="184.80" y="99.00" font-size="10.5" font-weight="bold" fill="#c09cfc">4Hz</text>
<text x="239.00" y="63.20" font-size="10.5" font-weight="bold" fill="#9ccb62">6Hz</text>
<text x="288.70" y="38.90" font-size="10.5" font-weight="bold" fill="#ffa2b4">8Hz</text>
<text x="428.70" y="139.40" font-size="10.5" font-weight="bold" fill="#5cf275">1Hz</text>
<text x="482.70" y="122.70" font-size="10.5" font-weight="bold" fill="#4cc8f8">2Hz</text>
<text x="538.50" y="99.70" font-size="10.5" font-weight="bold" fill="#c09cfc">4Hz</text>
<text x="592.50" y="63.20" font-size="10.5" font-weight="bold" fill="#9ccb62">6Hz</text>
<text x="644.00" y="37.30" font-size="10.5" font-weight="bold" fill="#ffa2b4">8Hz</text>
<text x="76.30" y="363.80" font-size="10.5" font-weight="bold" fill="#5cf275">1Hz</text>
<text x="131.40" y="358.20" font-size="10.5" font-weight="bold" fill="#4cc8f8">2Hz</text>
<text x="183.10" y="350.90" font-size="10.5" font-weight="bold" fill="#c09cfc">4Hz</text>
<text x="237.90" y="339.20" font-size="10.5" font-weight="bold" fill="#9ccb62">6Hz</text>
<text x="289.90" y="328.10" font-size="10.5" font-weight="bold" fill="#ffa2b4">8Hz</text>
<text x="430.60" y="367.20" font-size="10.5" font-weight="bold" fill="#5cf275">1Hz</text>
<text x="488.00" y="358.80" font-size="10.5" font-weight="bold" fill="#4cc8f8">2Hz</text>
<text x="539.00" y="350.40" font-size="10.5" font-weight="bold" fill="#c09cfc">4Hz</text>
<text x="591.20" y="335.90" font-size="10.5" font-weight="bold" fill="#9ccb62">6Hz</text>
<text x="643.30" y="326.30" font-size="10.5" font-weight="bold" fill="#ffa2b4">8Hz</text>
</svg>
</body></html>
